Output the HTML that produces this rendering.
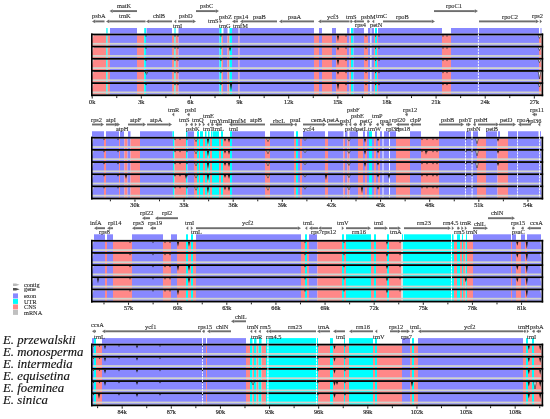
<!DOCTYPE html><html><head><meta charset="utf-8"><title>mVISTA</title><style>html,body{margin:0;padding:0;background:#fff;width:550px;height:419px;overflow:hidden}svg{display:block;will-change:transform}text{font-family:"Liberation Serif",serif}.l{font-size:6.4px;fill:#222;stroke:#333;stroke-width:0.1px}.ax{font-size:6.2px;fill:#222;stroke:#333;stroke-width:0.2px}.sp{font-size:12.8px;font-style:italic;fill:#111;stroke:#111;stroke-width:0.15px}.lg{font-size:6.3px;fill:#222;stroke:#333;stroke-width:0.1px}</style></head><body><svg width="550" height="419" viewBox="0 0 550 419"><rect width="550" height="419" fill="#fff"/><rect x="106.3" y="28" width="1.3" height="5.6" fill="#00ffff"/><rect x="110" y="28" width="27" height="5.6" fill="#8888ff"/><rect x="144.2" y="28" width="1.8" height="5.6" fill="#00ffff"/><rect x="146.5" y="28" width="25.5" height="5.6" fill="#8888ff"/><rect x="174.4" y="28" width="1.2" height="5.6" fill="#00ffff"/><rect x="178.5" y="28" width="41" height="5.6" fill="#8888ff"/><rect x="219.5" y="28" width="2" height="5.6" fill="#00ffff"/><rect x="223.5" y="28" width="4" height="5.6" fill="#8888ff"/><rect x="229.5" y="28" width="2.5" height="5.6" fill="#00ffff"/><rect x="232" y="28" width="6.5" height="5.6" fill="#8888ff"/><rect x="239.5" y="28" width="74.5" height="5.6" fill="#8888ff"/><rect x="319" y="28" width="3" height="5.6" fill="#8888ff"/><rect x="332" y="28" width="4" height="5.6" fill="#8888ff"/><rect x="347" y="28" width="2.5" height="5.6" fill="#8888ff"/><rect x="351" y="28" width="2.5" height="5.6" fill="#00ffff"/><rect x="353.5" y="28" width="10.5" height="5.6" fill="#8888ff"/><rect x="368" y="28" width="2.5" height="5.6" fill="#8888ff"/><rect x="371.5" y="28" width="2.5" height="5.6" fill="#8888ff"/><rect x="375" y="28" width="2" height="5.6" fill="#00ffff"/><rect x="378" y="28" width="64" height="5.6" fill="#8888ff"/><rect x="451" y="28" width="27" height="5.6" fill="#8888ff"/><rect x="479" y="28" width="60" height="5.6" fill="#8888ff"/><rect x="540.5" y="28" width="1" height="5.6" fill="#8888ff"/><rect x="92" y="35.4" width="14.3" height="10.35" fill="#ff8888"/><rect x="106.3" y="35.4" width="1.3" height="10.35" fill="#00ffff"/><rect x="107.6" y="35.4" width="2.4" height="10.35" fill="#ff8888"/><rect x="110" y="35.4" width="27" height="10.35" fill="#8888ff"/><rect x="137" y="35.4" width="7.2" height="10.35" fill="#ff8888"/><rect x="144.2" y="35.4" width="1.8" height="10.35" fill="#00ffff"/><rect x="146" y="35.4" width="26" height="10.35" fill="#8888ff"/><rect x="172" y="35.4" width="2.4" height="10.35" fill="#ff8888"/><rect x="174.4" y="35.4" width="1.2" height="10.35" fill="#00ffff"/><rect x="175.6" y="35.4" width="2.9" height="10.35" fill="#ff8888"/><rect x="178.5" y="35.4" width="41" height="10.35" fill="#8888ff"/><rect x="219.5" y="35.4" width="2" height="10.35" fill="#00ffff"/><rect x="221.5" y="35.4" width="1.5" height="10.35" fill="#ff8888"/><rect x="223" y="35.4" width="4.5" height="10.35" fill="#8888ff"/><rect x="227.5" y="35.4" width="2" height="10.35" fill="#ff8888"/><rect x="229.5" y="35.4" width="2.5" height="10.35" fill="#00ffff"/><rect x="232" y="35.4" width="6.5" height="10.35" fill="#8888ff"/><rect x="238.5" y="35.4" width="1" height="10.35" fill="#ff8888"/><rect x="239.5" y="35.4" width="74.5" height="10.35" fill="#8888ff"/><rect x="314" y="35.4" width="5" height="10.35" fill="#ff8888"/><rect x="319" y="35.4" width="3" height="10.35" fill="#8888ff"/><rect x="322" y="35.4" width="10" height="10.35" fill="#ff8888"/><rect x="332" y="35.4" width="4" height="10.35" fill="#8888ff"/><rect x="336" y="35.4" width="11" height="10.35" fill="#ff8888"/><rect x="347" y="35.4" width="2.5" height="10.35" fill="#8888ff"/><rect x="349.5" y="35.4" width="1.5" height="10.35" fill="#ff8888"/><rect x="351" y="35.4" width="2.5" height="10.35" fill="#00ffff"/><rect x="353.5" y="35.4" width="10.5" height="10.35" fill="#8888ff"/><rect x="364" y="35.4" width="4" height="10.35" fill="#ff8888"/><rect x="368" y="35.4" width="2.5" height="10.35" fill="#8888ff"/><rect x="370.5" y="35.4" width="1" height="10.35" fill="#ffffff"/><rect x="371.5" y="35.4" width="2.5" height="10.35" fill="#8888ff"/><rect x="374" y="35.4" width="1" height="10.35" fill="#ff8888"/><rect x="375" y="35.4" width="2" height="10.35" fill="#00ffff"/><rect x="377" y="35.4" width="1" height="10.35" fill="#ff8888"/><rect x="378" y="35.4" width="64" height="10.35" fill="#8888ff"/><rect x="442" y="35.4" width="9" height="10.35" fill="#ff8888"/><rect x="451" y="35.4" width="88" height="10.35" fill="#8888ff"/><rect x="539" y="35.4" width="2.6" height="10.35" fill="#ff8888"/><rect x="92" y="42.9" width="449.6" height="1.8" fill="#d2d4cc"/><rect x="91" y="33.6" width="452.2" height="1.8" fill="#000"/><rect x="92" y="47.55" width="14.3" height="10.35" fill="#ff8888"/><rect x="106.3" y="47.55" width="1.3" height="10.35" fill="#00ffff"/><rect x="107.6" y="47.55" width="2.4" height="10.35" fill="#ff8888"/><rect x="110" y="47.55" width="27" height="10.35" fill="#8888ff"/><rect x="137" y="47.55" width="7.2" height="10.35" fill="#ff8888"/><rect x="144.2" y="47.55" width="1.8" height="10.35" fill="#00ffff"/><rect x="146" y="47.55" width="26" height="10.35" fill="#8888ff"/><rect x="172" y="47.55" width="2.4" height="10.35" fill="#ff8888"/><rect x="174.4" y="47.55" width="1.2" height="10.35" fill="#00ffff"/><rect x="175.6" y="47.55" width="2.9" height="10.35" fill="#ff8888"/><rect x="178.5" y="47.55" width="41" height="10.35" fill="#8888ff"/><rect x="219.5" y="47.55" width="2" height="10.35" fill="#00ffff"/><rect x="221.5" y="47.55" width="1.5" height="10.35" fill="#ff8888"/><rect x="223" y="47.55" width="4.5" height="10.35" fill="#8888ff"/><rect x="227.5" y="47.55" width="2" height="10.35" fill="#ff8888"/><rect x="229.5" y="47.55" width="2.5" height="10.35" fill="#00ffff"/><rect x="232" y="47.55" width="6.5" height="10.35" fill="#8888ff"/><rect x="238.5" y="47.55" width="1" height="10.35" fill="#ff8888"/><rect x="239.5" y="47.55" width="74.5" height="10.35" fill="#8888ff"/><rect x="314" y="47.55" width="5" height="10.35" fill="#ff8888"/><rect x="319" y="47.55" width="3" height="10.35" fill="#8888ff"/><rect x="322" y="47.55" width="10" height="10.35" fill="#ff8888"/><rect x="332" y="47.55" width="4" height="10.35" fill="#8888ff"/><rect x="336" y="47.55" width="11" height="10.35" fill="#ff8888"/><rect x="347" y="47.55" width="2.5" height="10.35" fill="#8888ff"/><rect x="349.5" y="47.55" width="1.5" height="10.35" fill="#ff8888"/><rect x="351" y="47.55" width="2.5" height="10.35" fill="#00ffff"/><rect x="353.5" y="47.55" width="10.5" height="10.35" fill="#8888ff"/><rect x="364" y="47.55" width="4" height="10.35" fill="#ff8888"/><rect x="368" y="47.55" width="2.5" height="10.35" fill="#8888ff"/><rect x="370.5" y="47.55" width="1" height="10.35" fill="#ffffff"/><rect x="371.5" y="47.55" width="2.5" height="10.35" fill="#8888ff"/><rect x="374" y="47.55" width="1" height="10.35" fill="#ff8888"/><rect x="375" y="47.55" width="2" height="10.35" fill="#00ffff"/><rect x="377" y="47.55" width="1" height="10.35" fill="#ff8888"/><rect x="378" y="47.55" width="64" height="10.35" fill="#8888ff"/><rect x="442" y="47.55" width="9" height="10.35" fill="#ff8888"/><rect x="451" y="47.55" width="88" height="10.35" fill="#8888ff"/><rect x="539" y="47.55" width="2.6" height="10.35" fill="#ff8888"/><rect x="92" y="55.05" width="449.6" height="1.8" fill="#d2d4cc"/><rect x="91" y="45.75" width="452.2" height="1.8" fill="#000"/><rect x="92" y="59.7" width="14.3" height="10.35" fill="#ff8888"/><rect x="106.3" y="59.7" width="1.3" height="10.35" fill="#00ffff"/><rect x="107.6" y="59.7" width="2.4" height="10.35" fill="#ff8888"/><rect x="110" y="59.7" width="27" height="10.35" fill="#8888ff"/><rect x="137" y="59.7" width="7.2" height="10.35" fill="#ff8888"/><rect x="144.2" y="59.7" width="1.8" height="10.35" fill="#00ffff"/><rect x="146" y="59.7" width="26" height="10.35" fill="#8888ff"/><rect x="172" y="59.7" width="2.4" height="10.35" fill="#ff8888"/><rect x="174.4" y="59.7" width="1.2" height="10.35" fill="#00ffff"/><rect x="175.6" y="59.7" width="2.9" height="10.35" fill="#ff8888"/><rect x="178.5" y="59.7" width="41" height="10.35" fill="#8888ff"/><rect x="219.5" y="59.7" width="2" height="10.35" fill="#00ffff"/><rect x="221.5" y="59.7" width="1.5" height="10.35" fill="#ff8888"/><rect x="223" y="59.7" width="4.5" height="10.35" fill="#8888ff"/><rect x="227.5" y="59.7" width="2" height="10.35" fill="#ff8888"/><rect x="229.5" y="59.7" width="2.5" height="10.35" fill="#00ffff"/><rect x="232" y="59.7" width="6.5" height="10.35" fill="#8888ff"/><rect x="238.5" y="59.7" width="1" height="10.35" fill="#ff8888"/><rect x="239.5" y="59.7" width="74.5" height="10.35" fill="#8888ff"/><rect x="314" y="59.7" width="5" height="10.35" fill="#ff8888"/><rect x="319" y="59.7" width="3" height="10.35" fill="#8888ff"/><rect x="322" y="59.7" width="10" height="10.35" fill="#ff8888"/><rect x="332" y="59.7" width="4" height="10.35" fill="#8888ff"/><rect x="336" y="59.7" width="11" height="10.35" fill="#ff8888"/><rect x="347" y="59.7" width="2.5" height="10.35" fill="#8888ff"/><rect x="349.5" y="59.7" width="1.5" height="10.35" fill="#ff8888"/><rect x="351" y="59.7" width="2.5" height="10.35" fill="#00ffff"/><rect x="353.5" y="59.7" width="10.5" height="10.35" fill="#8888ff"/><rect x="364" y="59.7" width="4" height="10.35" fill="#ff8888"/><rect x="368" y="59.7" width="2.5" height="10.35" fill="#8888ff"/><rect x="370.5" y="59.7" width="1" height="10.35" fill="#ffffff"/><rect x="371.5" y="59.7" width="2.5" height="10.35" fill="#8888ff"/><rect x="374" y="59.7" width="1" height="10.35" fill="#ff8888"/><rect x="375" y="59.7" width="2" height="10.35" fill="#00ffff"/><rect x="377" y="59.7" width="1" height="10.35" fill="#ff8888"/><rect x="378" y="59.7" width="64" height="10.35" fill="#8888ff"/><rect x="442" y="59.7" width="9" height="10.35" fill="#ff8888"/><rect x="451" y="59.7" width="88" height="10.35" fill="#8888ff"/><rect x="539" y="59.7" width="2.6" height="10.35" fill="#ff8888"/><rect x="92" y="67.2" width="449.6" height="1.8" fill="#d2d4cc"/><rect x="91" y="57.9" width="452.2" height="1.8" fill="#000"/><rect x="92" y="71.85" width="14.3" height="10.35" fill="#ff8888"/><rect x="106.3" y="71.85" width="1.3" height="10.35" fill="#00ffff"/><rect x="107.6" y="71.85" width="2.4" height="10.35" fill="#ff8888"/><rect x="110" y="71.85" width="27" height="10.35" fill="#8888ff"/><rect x="137" y="71.85" width="7.2" height="10.35" fill="#ff8888"/><rect x="144.2" y="71.85" width="1.8" height="10.35" fill="#00ffff"/><rect x="146" y="71.85" width="26" height="10.35" fill="#8888ff"/><rect x="172" y="71.85" width="2.4" height="10.35" fill="#ff8888"/><rect x="174.4" y="71.85" width="1.2" height="10.35" fill="#00ffff"/><rect x="175.6" y="71.85" width="2.9" height="10.35" fill="#ff8888"/><rect x="178.5" y="71.85" width="41" height="10.35" fill="#8888ff"/><rect x="219.5" y="71.85" width="2" height="10.35" fill="#00ffff"/><rect x="221.5" y="71.85" width="1.5" height="10.35" fill="#ff8888"/><rect x="223" y="71.85" width="4.5" height="10.35" fill="#8888ff"/><rect x="227.5" y="71.85" width="2" height="10.35" fill="#ff8888"/><rect x="229.5" y="71.85" width="2.5" height="10.35" fill="#00ffff"/><rect x="232" y="71.85" width="6.5" height="10.35" fill="#8888ff"/><rect x="238.5" y="71.85" width="1" height="10.35" fill="#ff8888"/><rect x="239.5" y="71.85" width="74.5" height="10.35" fill="#8888ff"/><rect x="314" y="71.85" width="5" height="10.35" fill="#ff8888"/><rect x="319" y="71.85" width="3" height="10.35" fill="#8888ff"/><rect x="322" y="71.85" width="10" height="10.35" fill="#ff8888"/><rect x="332" y="71.85" width="4" height="10.35" fill="#8888ff"/><rect x="336" y="71.85" width="11" height="10.35" fill="#ff8888"/><rect x="347" y="71.85" width="2.5" height="10.35" fill="#8888ff"/><rect x="349.5" y="71.85" width="1.5" height="10.35" fill="#ff8888"/><rect x="351" y="71.85" width="2.5" height="10.35" fill="#00ffff"/><rect x="353.5" y="71.85" width="10.5" height="10.35" fill="#8888ff"/><rect x="364" y="71.85" width="4" height="10.35" fill="#ff8888"/><rect x="368" y="71.85" width="2.5" height="10.35" fill="#8888ff"/><rect x="370.5" y="71.85" width="1" height="10.35" fill="#ffffff"/><rect x="371.5" y="71.85" width="2.5" height="10.35" fill="#8888ff"/><rect x="374" y="71.85" width="1" height="10.35" fill="#ff8888"/><rect x="375" y="71.85" width="2" height="10.35" fill="#00ffff"/><rect x="377" y="71.85" width="1" height="10.35" fill="#ff8888"/><rect x="378" y="71.85" width="64" height="10.35" fill="#8888ff"/><rect x="442" y="71.85" width="9" height="10.35" fill="#ff8888"/><rect x="451" y="71.85" width="88" height="10.35" fill="#8888ff"/><rect x="539" y="71.85" width="2.6" height="10.35" fill="#ff8888"/><rect x="92" y="79.35" width="449.6" height="1.8" fill="#d2d4cc"/><rect x="91" y="70.05" width="452.2" height="1.8" fill="#000"/><rect x="92" y="84" width="14.3" height="10.35" fill="#ff8888"/><rect x="106.3" y="84" width="1.3" height="10.35" fill="#00ffff"/><rect x="107.6" y="84" width="2.4" height="10.35" fill="#ff8888"/><rect x="110" y="84" width="27" height="10.35" fill="#8888ff"/><rect x="137" y="84" width="7.2" height="10.35" fill="#ff8888"/><rect x="144.2" y="84" width="1.8" height="10.35" fill="#00ffff"/><rect x="146" y="84" width="26" height="10.35" fill="#8888ff"/><rect x="172" y="84" width="2.4" height="10.35" fill="#ff8888"/><rect x="174.4" y="84" width="1.2" height="10.35" fill="#00ffff"/><rect x="175.6" y="84" width="2.9" height="10.35" fill="#ff8888"/><rect x="178.5" y="84" width="41" height="10.35" fill="#8888ff"/><rect x="219.5" y="84" width="2" height="10.35" fill="#00ffff"/><rect x="221.5" y="84" width="1.5" height="10.35" fill="#ff8888"/><rect x="223" y="84" width="4.5" height="10.35" fill="#8888ff"/><rect x="227.5" y="84" width="2" height="10.35" fill="#ff8888"/><rect x="229.5" y="84" width="2.5" height="10.35" fill="#00ffff"/><rect x="232" y="84" width="6.5" height="10.35" fill="#8888ff"/><rect x="238.5" y="84" width="1" height="10.35" fill="#ff8888"/><rect x="239.5" y="84" width="74.5" height="10.35" fill="#8888ff"/><rect x="314" y="84" width="5" height="10.35" fill="#ff8888"/><rect x="319" y="84" width="3" height="10.35" fill="#8888ff"/><rect x="322" y="84" width="10" height="10.35" fill="#ff8888"/><rect x="332" y="84" width="4" height="10.35" fill="#8888ff"/><rect x="336" y="84" width="11" height="10.35" fill="#ff8888"/><rect x="347" y="84" width="2.5" height="10.35" fill="#8888ff"/><rect x="349.5" y="84" width="1.5" height="10.35" fill="#ff8888"/><rect x="351" y="84" width="2.5" height="10.35" fill="#00ffff"/><rect x="353.5" y="84" width="10.5" height="10.35" fill="#8888ff"/><rect x="364" y="84" width="4" height="10.35" fill="#ff8888"/><rect x="368" y="84" width="2.5" height="10.35" fill="#8888ff"/><rect x="370.5" y="84" width="1" height="10.35" fill="#ffffff"/><rect x="371.5" y="84" width="2.5" height="10.35" fill="#8888ff"/><rect x="374" y="84" width="1" height="10.35" fill="#ff8888"/><rect x="375" y="84" width="2" height="10.35" fill="#00ffff"/><rect x="377" y="84" width="1" height="10.35" fill="#ff8888"/><rect x="378" y="84" width="64" height="10.35" fill="#8888ff"/><rect x="442" y="84" width="9" height="10.35" fill="#ff8888"/><rect x="451" y="84" width="88" height="10.35" fill="#8888ff"/><rect x="539" y="84" width="2.6" height="10.35" fill="#ff8888"/><rect x="92" y="91.5" width="449.6" height="1.8" fill="#d2d4cc"/><rect x="91" y="82.2" width="452.2" height="1.8" fill="#000"/><rect x="91" y="94.35" width="452.2" height="1.8" fill="#000"/><line x1="478.4" y1="28" x2="478.4" y2="94.25" stroke="#fff" stroke-width="0.9" stroke-dasharray="2.2,0.8"/><polygon points="92,35.4 93.6,35.4 92,41.4" fill="#e8e0e0"/><polygon points="540.4,35.4 541.6,35.4 541.6,42.4" fill="#eee"/><polygon points="336.9,35.4 338,41.4 339.1,35.4" fill="#1a1a1a"/><polygon points="538.2,35.4 539.5,38.4 540.8,35.4" fill="#fff" stroke="#222" stroke-width="0.6"/><polygon points="145.2,35.4 146,37 146.8,35.4" fill="#222"/><polygon points="174.2,35.4 175,37 175.8,35.4" fill="#222"/><polygon points="177.2,35.4 178,37 178.8,35.4" fill="#222"/><polygon points="220.2,35.4 221,37 221.8,35.4" fill="#222"/><polygon points="345.2,35.4 346,37 346.8,35.4" fill="#222"/><polygon points="365.2,35.4 366,37 366.8,35.4" fill="#222"/><polygon points="374.7,35.4 375.5,37 376.3,35.4" fill="#222"/><polygon points="378.2,35.4 379,37 379.8,35.4" fill="#222"/><polygon points="442.2,35.4 443,37 443.8,35.4" fill="#222"/><polygon points="446.2,35.4 447,37 447.8,35.4" fill="#222"/><polygon points="92,47.55 93.6,47.55 92,53.55" fill="#e8e0e0"/><polygon points="540.4,47.55 541.6,47.55 541.6,54.55" fill="#eee"/><polygon points="336.9,47.55 338,50.55 339.1,47.55" fill="#1a1a1a"/><polygon points="228.9,47.55 230,51.55 231.1,47.55" fill="#1a1a1a"/><polygon points="538.2,47.55 539.5,50.55 540.8,47.55" fill="#fff" stroke="#222" stroke-width="0.6"/><polygon points="145.2,47.55 146,49.15 146.8,47.55" fill="#222"/><polygon points="174.2,47.55 175,49.15 175.8,47.55" fill="#222"/><polygon points="177.2,47.55 178,49.15 178.8,47.55" fill="#222"/><polygon points="220.2,47.55 221,49.15 221.8,47.55" fill="#222"/><polygon points="345.2,47.55 346,49.15 346.8,47.55" fill="#222"/><polygon points="365.2,47.55 366,49.15 366.8,47.55" fill="#222"/><polygon points="374.7,47.55 375.5,49.15 376.3,47.55" fill="#222"/><polygon points="378.2,47.55 379,49.15 379.8,47.55" fill="#222"/><polygon points="442.2,47.55 443,49.15 443.8,47.55" fill="#222"/><polygon points="446.2,47.55 447,49.15 447.8,47.55" fill="#222"/><polygon points="92,59.7 93.6,59.7 92,65.7" fill="#e8e0e0"/><polygon points="540.4,59.7 541.6,59.7 541.6,66.7" fill="#eee"/><polygon points="336.9,59.7 338,65.7 339.1,59.7" fill="#1a1a1a"/><polygon points="538.2,59.7 539.5,62.7 540.8,59.7" fill="#fff" stroke="#222" stroke-width="0.6"/><polygon points="145.2,59.7 146,61.3 146.8,59.7" fill="#222"/><polygon points="174.2,59.7 175,61.3 175.8,59.7" fill="#222"/><polygon points="177.2,59.7 178,61.3 178.8,59.7" fill="#222"/><polygon points="220.2,59.7 221,61.3 221.8,59.7" fill="#222"/><polygon points="345.2,59.7 346,61.3 346.8,59.7" fill="#222"/><polygon points="365.2,59.7 366,61.3 366.8,59.7" fill="#222"/><polygon points="374.7,59.7 375.5,61.3 376.3,59.7" fill="#222"/><polygon points="378.2,59.7 379,61.3 379.8,59.7" fill="#222"/><polygon points="442.2,59.7 443,61.3 443.8,59.7" fill="#222"/><polygon points="446.2,59.7 447,61.3 447.8,59.7" fill="#222"/><polygon points="92,71.85 93.6,71.85 92,77.85" fill="#e8e0e0"/><polygon points="540.4,71.85 541.6,71.85 541.6,78.85" fill="#eee"/><polygon points="336.9,71.85 338,74.85 339.1,71.85" fill="#1a1a1a"/><polygon points="538.2,71.85 539.5,78.85 540.8,71.85" fill="#fff" stroke="#222" stroke-width="0.6"/><polygon points="145.2,71.85 146.5,74.35 147.8,71.85" fill="#fff" stroke="#222" stroke-width="0.6"/><polygon points="145.2,71.85 146,73.45 146.8,71.85" fill="#222"/><polygon points="174.2,71.85 175,73.45 175.8,71.85" fill="#222"/><polygon points="177.2,71.85 178,73.45 178.8,71.85" fill="#222"/><polygon points="220.2,71.85 221,73.45 221.8,71.85" fill="#222"/><polygon points="345.2,71.85 346,73.45 346.8,71.85" fill="#222"/><polygon points="365.2,71.85 366,73.45 366.8,71.85" fill="#222"/><polygon points="374.7,71.85 375.5,73.45 376.3,71.85" fill="#222"/><polygon points="378.2,71.85 379,73.45 379.8,71.85" fill="#222"/><polygon points="442.2,71.85 443,73.45 443.8,71.85" fill="#222"/><polygon points="446.2,71.85 447,73.45 447.8,71.85" fill="#222"/><polygon points="92,84 93.6,84 92,90" fill="#e8e0e0"/><polygon points="540.4,84 541.6,84 541.6,91" fill="#eee"/><polygon points="336.9,84 338,90 339.1,84" fill="#1a1a1a"/><polygon points="229.9,84 231,91 232.1,84" fill="#1a1a1a"/><polygon points="538.2,84 539.5,87 540.8,84" fill="#fff" stroke="#222" stroke-width="0.6"/><polygon points="145.2,84 146,85.6 146.8,84" fill="#222"/><polygon points="174.2,84 175,85.6 175.8,84" fill="#222"/><polygon points="177.2,84 178,85.6 178.8,84" fill="#222"/><polygon points="220.2,84 221,85.6 221.8,84" fill="#222"/><polygon points="345.2,84 346,85.6 346.8,84" fill="#222"/><polygon points="365.2,84 366,85.6 366.8,84" fill="#222"/><polygon points="374.7,84 375.5,85.6 376.3,84" fill="#222"/><polygon points="378.2,84 379,85.6 379.8,84" fill="#222"/><polygon points="442.2,84 443,85.6 443.8,84" fill="#222"/><polygon points="446.2,84 447,85.6 447.8,84" fill="#222"/><rect x="91" y="33.5" width="1.6" height="62.75" fill="#000"/><rect x="541.6" y="33.5" width="1.6" height="62.75" fill="#000"/><rect x="91.7" y="96.15" width="1" height="2.4" fill="#222"/><text class="ax" x="92.2" y="104.15" text-anchor="middle">0k</text><rect x="116.26" y="96.15" width="1" height="1.9" fill="#222"/><rect x="140.82" y="96.15" width="1" height="2.4" fill="#222"/><text class="ax" x="141.32" y="104.15" text-anchor="middle">3k</text><rect x="165.39" y="96.15" width="1" height="1.9" fill="#222"/><rect x="189.95" y="96.15" width="1" height="2.4" fill="#222"/><text class="ax" x="190.45" y="104.15" text-anchor="middle">6k</text><rect x="214.51" y="96.15" width="1" height="1.9" fill="#222"/><rect x="239.07" y="96.15" width="1" height="2.4" fill="#222"/><text class="ax" x="239.57" y="104.15" text-anchor="middle">9k</text><rect x="263.64" y="96.15" width="1" height="1.9" fill="#222"/><rect x="288.2" y="96.15" width="1" height="2.4" fill="#222"/><text class="ax" x="288.7" y="104.15" text-anchor="middle">12k</text><rect x="312.76" y="96.15" width="1" height="1.9" fill="#222"/><rect x="337.32" y="96.15" width="1" height="2.4" fill="#222"/><text class="ax" x="337.82" y="104.15" text-anchor="middle">15k</text><rect x="361.89" y="96.15" width="1" height="1.9" fill="#222"/><rect x="386.45" y="96.15" width="1" height="2.4" fill="#222"/><text class="ax" x="386.95" y="104.15" text-anchor="middle">18k</text><rect x="411.01" y="96.15" width="1" height="1.9" fill="#222"/><rect x="435.57" y="96.15" width="1" height="2.4" fill="#222"/><text class="ax" x="436.07" y="104.15" text-anchor="middle">21k</text><rect x="460.14" y="96.15" width="1" height="1.9" fill="#222"/><rect x="484.7" y="96.15" width="1" height="2.4" fill="#222"/><text class="ax" x="485.2" y="104.15" text-anchor="middle">24k</text><rect x="509.26" y="96.15" width="1" height="1.9" fill="#222"/><rect x="533.83" y="96.15" width="1" height="2.4" fill="#222"/><text class="ax" x="534.33" y="104.15" text-anchor="middle">27k</text><rect x="112.7" y="10.15" width="24.3" height="1.9" fill="#6e6e6e"/><polygon points="112.7,9.2 109.5,11.1 112.7,13" fill="#6e6e6e"/><rect x="196" y="10.15" width="19.8" height="1.9" fill="#6e6e6e"/><polygon points="215.8,9.2 219,11.1 215.8,13" fill="#6e6e6e"/><rect x="434" y="10.15" width="40.8" height="1.9" fill="#6e6e6e"/><polygon points="474.8,9.2 478,11.1 474.8,13" fill="#6e6e6e"/><rect x="95.2" y="20.45" width="9.3" height="1.9" fill="#6e6e6e"/><polygon points="95.2,19.5 92,21.4 95.2,23.3" fill="#6e6e6e"/><rect x="109.2" y="20.45" width="36.3" height="1.9" fill="#6e6e6e"/><polygon points="109.2,19.5 106,21.4 109.2,23.3" fill="#6e6e6e"/><rect x="149.2" y="20.45" width="22.8" height="1.9" fill="#6e6e6e"/><polygon points="149.2,19.5 146,21.4 149.2,23.3" fill="#6e6e6e"/><rect x="178" y="20.45" width="14.8" height="1.9" fill="#6e6e6e"/><polygon points="192.8,19.5 196,21.4 192.8,23.3" fill="#6e6e6e"/><rect x="219.5" y="20.45" width="0.3" height="1.9" fill="#6e6e6e"/><polygon points="219.8,19.5 222,21.4 219.8,23.3" fill="#6e6e6e"/><rect x="235.2" y="20.45" width="2.8" height="1.9" fill="#6e6e6e"/><polygon points="235.2,19.5 232,21.4 235.2,23.3" fill="#6e6e6e"/><rect x="243.2" y="20.45" width="33.8" height="1.9" fill="#6e6e6e"/><polygon points="243.2,19.5 240,21.4 243.2,23.3" fill="#6e6e6e"/><rect x="282.2" y="20.45" width="31.8" height="1.9" fill="#6e6e6e"/><polygon points="282.2,19.5 279,21.4 282.2,23.3" fill="#6e6e6e"/><rect x="321.2" y="20.45" width="28.3" height="1.9" fill="#6e6e6e"/><polygon points="321.2,19.5 318,21.4 321.2,23.3" fill="#6e6e6e"/><rect x="350" y="20.45" width="0.8" height="1.9" fill="#6e6e6e"/><polygon points="350.8,19.5 353,21.4 350.8,23.3" fill="#6e6e6e"/><rect x="356.2" y="20.45" width="7.8" height="1.9" fill="#6e6e6e"/><polygon points="356.2,19.5 353,21.4 356.2,23.3" fill="#6e6e6e"/><rect x="367" y="20.45" width="0.8" height="1.9" fill="#6e6e6e"/><polygon points="367.8,19.5 370,21.4 367.8,23.3" fill="#6e6e6e"/><rect x="374.2" y="20.45" width="0.1" height="1.9" fill="#6e6e6e"/><polygon points="374.2,19.5 372,21.4 374.2,23.3" fill="#6e6e6e"/><rect x="383" y="20.45" width="48.8" height="1.9" fill="#6e6e6e"/><polygon points="431.8,19.5 435,21.4 431.8,23.3" fill="#6e6e6e"/><rect x="479" y="20.45" width="56.8" height="1.9" fill="#6e6e6e"/><polygon points="535.8,19.5 539,21.4 535.8,23.3" fill="#6e6e6e"/><rect x="540" y="20.45" width="0.1" height="1.9" fill="#6e6e6e"/><polygon points="539.8,19.5 542,21.4 539.8,23.3" fill="#6e6e6e"/><rect x="176.2" y="20.45" width="0.1" height="1.9" fill="#6e6e6e"/><polygon points="176.2,19.5 174,21.4 176.2,23.3" fill="#6e6e6e"/><text class="l" x="117" y="8">matK</text><text class="l" x="200" y="8">psbC</text><text class="l" x="446" y="8">rpoC1</text><text class="l" x="92" y="18.4">psbA</text><text class="l" x="119" y="18.4">trnK</text><text class="l" x="153" y="18.4">chlB</text><text class="l" x="179" y="18.4">psbD</text><text class="l" x="208" y="23.3">trnS</text><text class="l" x="219" y="19.3">psbZ</text><text class="l" x="219" y="28">trnG</text><text class="l" x="233" y="28">trnfM</text><text class="l" x="234" y="19">rps14</text><text class="l" x="253" y="19">psaB</text><text class="l" x="288" y="19">psaA</text><text class="l" x="327" y="19">ycf3</text><text class="l" x="346" y="19">trnS</text><text class="l" x="355" y="26.5">rps4</text><text class="l" x="361" y="19.3">psbM</text><text class="l" x="376" y="18">trnC</text><text class="l" x="370" y="27">petN</text><text class="l" x="396" y="19">rpoB</text><text class="l" x="502" y="19">rpoC2</text><text class="l" x="532" y="18">rps2</text><text class="l" x="173" y="27.5">trnI</text><rect x="92" y="131.25" width="12" height="5.6" fill="#8888ff"/><rect x="106" y="131.25" width="13" height="5.6" fill="#8888ff"/><rect x="120" y="131.25" width="4" height="5.6" fill="#8888ff"/><rect x="128" y="131.25" width="2.5" height="5.6" fill="#8888ff"/><rect x="140" y="131.25" width="32.5" height="5.6" fill="#8888ff"/><rect x="172.5" y="131.25" width="1.5" height="5.6" fill="#00ffff"/><rect x="186" y="131.25" width="1.5" height="5.6" fill="#00ffff"/><rect x="187.5" y="131.25" width="6.5" height="5.6" fill="#8888ff"/><rect x="197" y="131.25" width="2" height="5.6" fill="#00ffff"/><rect x="200" y="131.25" width="3" height="5.6" fill="#00ffff"/><rect x="205" y="131.25" width="1.5" height="5.6" fill="#00ffff"/><rect x="208" y="131.25" width="1.5" height="5.6" fill="#00ffff"/><rect x="211" y="131.25" width="1.5" height="5.6" fill="#00ffff"/><rect x="213" y="131.25" width="6" height="5.6" fill="#00ffff"/><rect x="221" y="131.25" width="2" height="5.6" fill="#00ffff"/><rect x="230" y="131.25" width="2" height="5.6" fill="#00ffff"/><rect x="232" y="131.25" width="33" height="5.6" fill="#8888ff"/><rect x="270" y="131.25" width="24" height="5.6" fill="#8888ff"/><rect x="296" y="131.25" width="2" height="5.6" fill="#00ffff"/><rect x="303" y="131.25" width="22" height="5.6" fill="#8888ff"/><rect x="328" y="131.25" width="15.5" height="5.6" fill="#8888ff"/><rect x="345" y="131.25" width="2.5" height="5.6" fill="#8888ff"/><rect x="349.5" y="131.25" width="8.5" height="5.6" fill="#8888ff"/><rect x="363" y="131.25" width="2" height="5.6" fill="#8888ff"/><rect x="367" y="131.25" width="2" height="5.6" fill="#8888ff"/><rect x="369" y="131.25" width="3" height="5.6" fill="#00ffff"/><rect x="375" y="131.25" width="2" height="5.6" fill="#8888ff"/><rect x="380" y="131.25" width="2" height="5.6" fill="#8888ff"/><rect x="384" y="131.25" width="5" height="5.6" fill="#8888ff"/><rect x="390" y="131.25" width="6" height="5.6" fill="#8888ff"/><rect x="410" y="131.25" width="11" height="5.6" fill="#8888ff"/><rect x="439" y="131.25" width="26" height="5.6" fill="#8888ff"/><rect x="466" y="131.25" width="5" height="5.6" fill="#8888ff"/><rect x="473" y="131.25" width="5" height="5.6" fill="#8888ff"/><rect x="486" y="131.25" width="11" height="5.6" fill="#8888ff"/><rect x="498" y="131.25" width="2" height="5.6" fill="#8888ff"/><rect x="508" y="131.25" width="9" height="5.6" fill="#8888ff"/><rect x="518" y="131.25" width="20.5" height="5.6" fill="#8888ff"/><rect x="540" y="131.25" width="1" height="5.6" fill="#8888ff"/><rect x="92" y="138.65" width="12" height="10.35" fill="#8888ff"/><rect x="104" y="138.65" width="2" height="10.35" fill="#ff8888"/><rect x="106" y="138.65" width="13" height="10.35" fill="#8888ff"/><rect x="119" y="138.65" width="1" height="10.35" fill="#ff8888"/><rect x="120" y="138.65" width="4.5" height="10.35" fill="#8888ff"/><rect x="124.5" y="138.65" width="3" height="10.35" fill="#ff8888"/><rect x="127.5" y="138.65" width="3" height="10.35" fill="#8888ff"/><rect x="130.5" y="138.65" width="9.5" height="10.35" fill="#ff8888"/><rect x="140" y="138.65" width="33" height="10.35" fill="#8888ff"/><rect x="173" y="138.65" width="1.5" height="10.35" fill="#00ffff"/><rect x="174.5" y="138.65" width="11.5" height="10.35" fill="#ff8888"/><rect x="186" y="138.65" width="1.5" height="10.35" fill="#00ffff"/><rect x="187.5" y="138.65" width="6.5" height="10.35" fill="#8888ff"/><rect x="194" y="138.65" width="3" height="10.35" fill="#ff8888"/><rect x="197" y="138.65" width="2" height="10.35" fill="#00ffff"/><rect x="199" y="138.65" width="1" height="10.35" fill="#ff8888"/><rect x="200" y="138.65" width="3" height="10.35" fill="#00ffff"/><rect x="203" y="138.65" width="2" height="10.35" fill="#ff8888"/><rect x="205" y="138.65" width="2" height="10.35" fill="#00ffff"/><rect x="207" y="138.65" width="1.5" height="10.35" fill="#ff8888"/><rect x="208.5" y="138.65" width="1.5" height="10.35" fill="#00ffff"/><rect x="210" y="138.65" width="2" height="10.35" fill="#ff8888"/><rect x="212" y="138.65" width="7" height="10.35" fill="#00ffff"/><rect x="219" y="138.65" width="2" height="10.35" fill="#ff8888"/><rect x="221" y="138.65" width="2" height="10.35" fill="#00ffff"/><rect x="223" y="138.65" width="7" height="10.35" fill="#ff8888"/><rect x="230" y="138.65" width="2" height="10.35" fill="#00ffff"/><rect x="232" y="138.65" width="33" height="10.35" fill="#8888ff"/><rect x="265" y="138.65" width="5" height="10.35" fill="#ff8888"/><rect x="270" y="138.65" width="24" height="10.35" fill="#8888ff"/><rect x="294" y="138.65" width="2" height="10.35" fill="#ff8888"/><rect x="296" y="138.65" width="2" height="10.35" fill="#00ffff"/><rect x="298" y="138.65" width="2" height="10.35" fill="#8888ff"/><rect x="300" y="138.65" width="2" height="10.35" fill="#ff8888"/><rect x="302" y="138.65" width="23" height="10.35" fill="#8888ff"/><rect x="325" y="138.65" width="3" height="10.35" fill="#ff8888"/><rect x="328" y="138.65" width="15.5" height="10.35" fill="#8888ff"/><rect x="343.5" y="138.65" width="1.5" height="10.35" fill="#ff8888"/><rect x="345" y="138.65" width="2.5" height="10.35" fill="#8888ff"/><rect x="347.5" y="138.65" width="2" height="10.35" fill="#ff8888"/><rect x="349.5" y="138.65" width="8.5" height="10.35" fill="#8888ff"/><rect x="358" y="138.65" width="5" height="10.35" fill="#ff8888"/><rect x="363" y="138.65" width="2" height="10.35" fill="#8888ff"/><rect x="365" y="138.65" width="2" height="10.35" fill="#ff8888"/><rect x="367" y="138.65" width="2" height="10.35" fill="#8888ff"/><rect x="369" y="138.65" width="3" height="10.35" fill="#00ffff"/><rect x="372" y="138.65" width="2" height="10.35" fill="#8888ff"/><rect x="374" y="138.65" width="2" height="10.35" fill="#ff8888"/><rect x="376" y="138.65" width="2" height="10.35" fill="#8888ff"/><rect x="378" y="138.65" width="2" height="10.35" fill="#ff8888"/><rect x="380" y="138.65" width="2" height="10.35" fill="#8888ff"/><rect x="382" y="138.65" width="2" height="10.35" fill="#c0c0ff"/><rect x="384" y="138.65" width="5" height="10.35" fill="#8888ff"/><rect x="389" y="138.65" width="1" height="10.35" fill="#ffffff"/><rect x="390" y="138.65" width="6" height="10.35" fill="#8888ff"/><rect x="396" y="138.65" width="14" height="10.35" fill="#ff8888"/><rect x="410" y="138.65" width="11" height="10.35" fill="#8888ff"/><rect x="421" y="138.65" width="18" height="10.35" fill="#ff8888"/><rect x="439" y="138.65" width="26" height="10.35" fill="#8888ff"/><rect x="465" y="138.65" width="1" height="10.35" fill="#8888ff"/><rect x="466" y="138.65" width="5" height="10.35" fill="#8888ff"/><rect x="471" y="138.65" width="1.5" height="10.35" fill="#8888ff"/><rect x="472.5" y="138.65" width="4.5" height="10.35" fill="#8888ff"/><rect x="477" y="138.65" width="9" height="10.35" fill="#ff8888"/><rect x="486" y="138.65" width="11.5" height="10.35" fill="#8888ff"/><rect x="497.5" y="138.65" width="10.5" height="10.35" fill="#ff8888"/><rect x="508" y="138.65" width="9" height="10.35" fill="#8888ff"/><rect x="517" y="138.65" width="1" height="10.35" fill="#8888ff"/><rect x="518" y="138.65" width="21" height="10.35" fill="#8888ff"/><rect x="539" y="138.65" width="1" height="10.35" fill="#8888ff"/><rect x="540" y="138.65" width="1.6" height="10.35" fill="#8888ff"/><rect x="92" y="146.15" width="449.6" height="1.8" fill="#d2d4cc"/><rect x="91" y="136.85" width="452.2" height="1.8" fill="#000"/><rect x="92" y="150.8" width="12" height="10.35" fill="#8888ff"/><rect x="104" y="150.8" width="2" height="10.35" fill="#ff8888"/><rect x="106" y="150.8" width="13" height="10.35" fill="#8888ff"/><rect x="119" y="150.8" width="1" height="10.35" fill="#ff8888"/><rect x="120" y="150.8" width="4.5" height="10.35" fill="#8888ff"/><rect x="124.5" y="150.8" width="3" height="10.35" fill="#ff8888"/><rect x="127.5" y="150.8" width="3" height="10.35" fill="#8888ff"/><rect x="130.5" y="150.8" width="9.5" height="10.35" fill="#ff8888"/><rect x="140" y="150.8" width="33" height="10.35" fill="#8888ff"/><rect x="173" y="150.8" width="1.5" height="10.35" fill="#00ffff"/><rect x="174.5" y="150.8" width="11.5" height="10.35" fill="#ff8888"/><rect x="186" y="150.8" width="1.5" height="10.35" fill="#00ffff"/><rect x="187.5" y="150.8" width="6.5" height="10.35" fill="#8888ff"/><rect x="194" y="150.8" width="3" height="10.35" fill="#ff8888"/><rect x="197" y="150.8" width="2" height="10.35" fill="#00ffff"/><rect x="199" y="150.8" width="1" height="10.35" fill="#ff8888"/><rect x="200" y="150.8" width="3" height="10.35" fill="#00ffff"/><rect x="203" y="150.8" width="2" height="10.35" fill="#ff8888"/><rect x="205" y="150.8" width="2" height="10.35" fill="#00ffff"/><rect x="207" y="150.8" width="1.5" height="10.35" fill="#ff8888"/><rect x="208.5" y="150.8" width="1.5" height="10.35" fill="#00ffff"/><rect x="210" y="150.8" width="2" height="10.35" fill="#ff8888"/><rect x="212" y="150.8" width="7" height="10.35" fill="#00ffff"/><rect x="219" y="150.8" width="2" height="10.35" fill="#ff8888"/><rect x="221" y="150.8" width="2" height="10.35" fill="#00ffff"/><rect x="223" y="150.8" width="7" height="10.35" fill="#ff8888"/><rect x="230" y="150.8" width="2" height="10.35" fill="#00ffff"/><rect x="232" y="150.8" width="33" height="10.35" fill="#8888ff"/><rect x="265" y="150.8" width="5" height="10.35" fill="#ff8888"/><rect x="270" y="150.8" width="24" height="10.35" fill="#8888ff"/><rect x="294" y="150.8" width="2" height="10.35" fill="#ff8888"/><rect x="296" y="150.8" width="2" height="10.35" fill="#00ffff"/><rect x="298" y="150.8" width="2" height="10.35" fill="#8888ff"/><rect x="300" y="150.8" width="2" height="10.35" fill="#ff8888"/><rect x="302" y="150.8" width="23" height="10.35" fill="#8888ff"/><rect x="325" y="150.8" width="3" height="10.35" fill="#ff8888"/><rect x="328" y="150.8" width="15.5" height="10.35" fill="#8888ff"/><rect x="343.5" y="150.8" width="1.5" height="10.35" fill="#ff8888"/><rect x="345" y="150.8" width="2.5" height="10.35" fill="#8888ff"/><rect x="347.5" y="150.8" width="2" height="10.35" fill="#ff8888"/><rect x="349.5" y="150.8" width="8.5" height="10.35" fill="#8888ff"/><rect x="358" y="150.8" width="5" height="10.35" fill="#ff8888"/><rect x="363" y="150.8" width="2" height="10.35" fill="#8888ff"/><rect x="365" y="150.8" width="2" height="10.35" fill="#ff8888"/><rect x="367" y="150.8" width="2" height="10.35" fill="#8888ff"/><rect x="369" y="150.8" width="3" height="10.35" fill="#00ffff"/><rect x="372" y="150.8" width="2" height="10.35" fill="#8888ff"/><rect x="374" y="150.8" width="2" height="10.35" fill="#ff8888"/><rect x="376" y="150.8" width="2" height="10.35" fill="#8888ff"/><rect x="378" y="150.8" width="2" height="10.35" fill="#ff8888"/><rect x="380" y="150.8" width="2" height="10.35" fill="#8888ff"/><rect x="382" y="150.8" width="2" height="10.35" fill="#c0c0ff"/><rect x="384" y="150.8" width="5" height="10.35" fill="#8888ff"/><rect x="389" y="150.8" width="1" height="10.35" fill="#ffffff"/><rect x="390" y="150.8" width="6" height="10.35" fill="#8888ff"/><rect x="396" y="150.8" width="14" height="10.35" fill="#ff8888"/><rect x="410" y="150.8" width="11" height="10.35" fill="#8888ff"/><rect x="421" y="150.8" width="18" height="10.35" fill="#ff8888"/><rect x="439" y="150.8" width="26" height="10.35" fill="#8888ff"/><rect x="465" y="150.8" width="1" height="10.35" fill="#8888ff"/><rect x="466" y="150.8" width="5" height="10.35" fill="#8888ff"/><rect x="471" y="150.8" width="1.5" height="10.35" fill="#8888ff"/><rect x="472.5" y="150.8" width="4.5" height="10.35" fill="#8888ff"/><rect x="477" y="150.8" width="9" height="10.35" fill="#ff8888"/><rect x="486" y="150.8" width="11.5" height="10.35" fill="#8888ff"/><rect x="497.5" y="150.8" width="10.5" height="10.35" fill="#ff8888"/><rect x="508" y="150.8" width="9" height="10.35" fill="#8888ff"/><rect x="517" y="150.8" width="1" height="10.35" fill="#8888ff"/><rect x="518" y="150.8" width="21" height="10.35" fill="#8888ff"/><rect x="539" y="150.8" width="1" height="10.35" fill="#8888ff"/><rect x="540" y="150.8" width="1.6" height="10.35" fill="#8888ff"/><rect x="92" y="158.3" width="449.6" height="1.8" fill="#d2d4cc"/><rect x="91" y="149" width="452.2" height="1.8" fill="#000"/><rect x="92" y="162.95" width="12" height="10.35" fill="#8888ff"/><rect x="104" y="162.95" width="2" height="10.35" fill="#ff8888"/><rect x="106" y="162.95" width="13" height="10.35" fill="#8888ff"/><rect x="119" y="162.95" width="1" height="10.35" fill="#ff8888"/><rect x="120" y="162.95" width="4.5" height="10.35" fill="#8888ff"/><rect x="124.5" y="162.95" width="3" height="10.35" fill="#ff8888"/><rect x="127.5" y="162.95" width="3" height="10.35" fill="#8888ff"/><rect x="130.5" y="162.95" width="9.5" height="10.35" fill="#ff8888"/><rect x="140" y="162.95" width="33" height="10.35" fill="#8888ff"/><rect x="173" y="162.95" width="1.5" height="10.35" fill="#00ffff"/><rect x="174.5" y="162.95" width="11.5" height="10.35" fill="#ff8888"/><rect x="186" y="162.95" width="1.5" height="10.35" fill="#00ffff"/><rect x="187.5" y="162.95" width="6.5" height="10.35" fill="#8888ff"/><rect x="194" y="162.95" width="3" height="10.35" fill="#ff8888"/><rect x="197" y="162.95" width="2" height="10.35" fill="#00ffff"/><rect x="199" y="162.95" width="1" height="10.35" fill="#ff8888"/><rect x="200" y="162.95" width="3" height="10.35" fill="#00ffff"/><rect x="203" y="162.95" width="2" height="10.35" fill="#ff8888"/><rect x="205" y="162.95" width="2" height="10.35" fill="#00ffff"/><rect x="207" y="162.95" width="1.5" height="10.35" fill="#ff8888"/><rect x="208.5" y="162.95" width="1.5" height="10.35" fill="#00ffff"/><rect x="210" y="162.95" width="2" height="10.35" fill="#ff8888"/><rect x="212" y="162.95" width="7" height="10.35" fill="#00ffff"/><rect x="219" y="162.95" width="2" height="10.35" fill="#ff8888"/><rect x="221" y="162.95" width="2" height="10.35" fill="#00ffff"/><rect x="223" y="162.95" width="7" height="10.35" fill="#ff8888"/><rect x="230" y="162.95" width="2" height="10.35" fill="#00ffff"/><rect x="232" y="162.95" width="33" height="10.35" fill="#8888ff"/><rect x="265" y="162.95" width="5" height="10.35" fill="#ff8888"/><rect x="270" y="162.95" width="24" height="10.35" fill="#8888ff"/><rect x="294" y="162.95" width="2" height="10.35" fill="#ff8888"/><rect x="296" y="162.95" width="2" height="10.35" fill="#00ffff"/><rect x="298" y="162.95" width="2" height="10.35" fill="#8888ff"/><rect x="300" y="162.95" width="2" height="10.35" fill="#ff8888"/><rect x="302" y="162.95" width="23" height="10.35" fill="#8888ff"/><rect x="325" y="162.95" width="3" height="10.35" fill="#ff8888"/><rect x="328" y="162.95" width="15.5" height="10.35" fill="#8888ff"/><rect x="343.5" y="162.95" width="1.5" height="10.35" fill="#ff8888"/><rect x="345" y="162.95" width="2.5" height="10.35" fill="#8888ff"/><rect x="347.5" y="162.95" width="2" height="10.35" fill="#ff8888"/><rect x="349.5" y="162.95" width="8.5" height="10.35" fill="#8888ff"/><rect x="358" y="162.95" width="5" height="10.35" fill="#ff8888"/><rect x="363" y="162.95" width="2" height="10.35" fill="#8888ff"/><rect x="365" y="162.95" width="2" height="10.35" fill="#ff8888"/><rect x="367" y="162.95" width="2" height="10.35" fill="#8888ff"/><rect x="369" y="162.95" width="3" height="10.35" fill="#00ffff"/><rect x="372" y="162.95" width="2" height="10.35" fill="#8888ff"/><rect x="374" y="162.95" width="2" height="10.35" fill="#ff8888"/><rect x="376" y="162.95" width="2" height="10.35" fill="#8888ff"/><rect x="378" y="162.95" width="2" height="10.35" fill="#ff8888"/><rect x="380" y="162.95" width="2" height="10.35" fill="#8888ff"/><rect x="382" y="162.95" width="2" height="10.35" fill="#c0c0ff"/><rect x="384" y="162.95" width="5" height="10.35" fill="#8888ff"/><rect x="389" y="162.95" width="1" height="10.35" fill="#ffffff"/><rect x="390" y="162.95" width="6" height="10.35" fill="#8888ff"/><rect x="396" y="162.95" width="14" height="10.35" fill="#ff8888"/><rect x="410" y="162.95" width="11" height="10.35" fill="#8888ff"/><rect x="421" y="162.95" width="18" height="10.35" fill="#ff8888"/><rect x="439" y="162.95" width="26" height="10.35" fill="#8888ff"/><rect x="465" y="162.95" width="1" height="10.35" fill="#8888ff"/><rect x="466" y="162.95" width="5" height="10.35" fill="#8888ff"/><rect x="471" y="162.95" width="1.5" height="10.35" fill="#8888ff"/><rect x="472.5" y="162.95" width="4.5" height="10.35" fill="#8888ff"/><rect x="477" y="162.95" width="9" height="10.35" fill="#ff8888"/><rect x="486" y="162.95" width="11.5" height="10.35" fill="#8888ff"/><rect x="497.5" y="162.95" width="10.5" height="10.35" fill="#ff8888"/><rect x="508" y="162.95" width="9" height="10.35" fill="#8888ff"/><rect x="517" y="162.95" width="1" height="10.35" fill="#8888ff"/><rect x="518" y="162.95" width="21" height="10.35" fill="#8888ff"/><rect x="539" y="162.95" width="1" height="10.35" fill="#8888ff"/><rect x="540" y="162.95" width="1.6" height="10.35" fill="#8888ff"/><rect x="92" y="170.45" width="449.6" height="1.8" fill="#d2d4cc"/><rect x="91" y="161.15" width="452.2" height="1.8" fill="#000"/><rect x="92" y="175.1" width="12" height="10.35" fill="#8888ff"/><rect x="104" y="175.1" width="2" height="10.35" fill="#ff8888"/><rect x="106" y="175.1" width="13" height="10.35" fill="#8888ff"/><rect x="119" y="175.1" width="1" height="10.35" fill="#ff8888"/><rect x="120" y="175.1" width="4.5" height="10.35" fill="#8888ff"/><rect x="124.5" y="175.1" width="3" height="10.35" fill="#ff8888"/><rect x="127.5" y="175.1" width="3" height="10.35" fill="#8888ff"/><rect x="130.5" y="175.1" width="9.5" height="10.35" fill="#ff8888"/><rect x="140" y="175.1" width="33" height="10.35" fill="#8888ff"/><rect x="173" y="175.1" width="1.5" height="10.35" fill="#00ffff"/><rect x="174.5" y="175.1" width="11.5" height="10.35" fill="#ff8888"/><rect x="186" y="175.1" width="1.5" height="10.35" fill="#00ffff"/><rect x="187.5" y="175.1" width="6.5" height="10.35" fill="#8888ff"/><rect x="194" y="175.1" width="3" height="10.35" fill="#ff8888"/><rect x="197" y="175.1" width="2" height="10.35" fill="#00ffff"/><rect x="199" y="175.1" width="1" height="10.35" fill="#ff8888"/><rect x="200" y="175.1" width="3" height="10.35" fill="#00ffff"/><rect x="203" y="175.1" width="2" height="10.35" fill="#ff8888"/><rect x="205" y="175.1" width="2" height="10.35" fill="#00ffff"/><rect x="207" y="175.1" width="1.5" height="10.35" fill="#ff8888"/><rect x="208.5" y="175.1" width="1.5" height="10.35" fill="#00ffff"/><rect x="210" y="175.1" width="2" height="10.35" fill="#ff8888"/><rect x="212" y="175.1" width="7" height="10.35" fill="#00ffff"/><rect x="219" y="175.1" width="2" height="10.35" fill="#ff8888"/><rect x="221" y="175.1" width="2" height="10.35" fill="#00ffff"/><rect x="223" y="175.1" width="7" height="10.35" fill="#ff8888"/><rect x="230" y="175.1" width="2" height="10.35" fill="#00ffff"/><rect x="232" y="175.1" width="33" height="10.35" fill="#8888ff"/><rect x="265" y="175.1" width="5" height="10.35" fill="#ff8888"/><rect x="270" y="175.1" width="24" height="10.35" fill="#8888ff"/><rect x="294" y="175.1" width="2" height="10.35" fill="#ff8888"/><rect x="296" y="175.1" width="2" height="10.35" fill="#00ffff"/><rect x="298" y="175.1" width="2" height="10.35" fill="#8888ff"/><rect x="300" y="175.1" width="2" height="10.35" fill="#ff8888"/><rect x="302" y="175.1" width="23" height="10.35" fill="#8888ff"/><rect x="325" y="175.1" width="3" height="10.35" fill="#ff8888"/><rect x="328" y="175.1" width="15.5" height="10.35" fill="#8888ff"/><rect x="343.5" y="175.1" width="1.5" height="10.35" fill="#ff8888"/><rect x="345" y="175.1" width="2.5" height="10.35" fill="#8888ff"/><rect x="347.5" y="175.1" width="2" height="10.35" fill="#ff8888"/><rect x="349.5" y="175.1" width="8.5" height="10.35" fill="#8888ff"/><rect x="358" y="175.1" width="5" height="10.35" fill="#ff8888"/><rect x="363" y="175.1" width="2" height="10.35" fill="#8888ff"/><rect x="365" y="175.1" width="2" height="10.35" fill="#ff8888"/><rect x="367" y="175.1" width="2" height="10.35" fill="#8888ff"/><rect x="369" y="175.1" width="3" height="10.35" fill="#00ffff"/><rect x="372" y="175.1" width="2" height="10.35" fill="#8888ff"/><rect x="374" y="175.1" width="2" height="10.35" fill="#ff8888"/><rect x="376" y="175.1" width="2" height="10.35" fill="#8888ff"/><rect x="378" y="175.1" width="2" height="10.35" fill="#ff8888"/><rect x="380" y="175.1" width="2" height="10.35" fill="#8888ff"/><rect x="382" y="175.1" width="2" height="10.35" fill="#c0c0ff"/><rect x="384" y="175.1" width="5" height="10.35" fill="#8888ff"/><rect x="389" y="175.1" width="1" height="10.35" fill="#ffffff"/><rect x="390" y="175.1" width="6" height="10.35" fill="#8888ff"/><rect x="396" y="175.1" width="14" height="10.35" fill="#ff8888"/><rect x="410" y="175.1" width="11" height="10.35" fill="#8888ff"/><rect x="421" y="175.1" width="18" height="10.35" fill="#ff8888"/><rect x="439" y="175.1" width="26" height="10.35" fill="#8888ff"/><rect x="465" y="175.1" width="1" height="10.35" fill="#8888ff"/><rect x="466" y="175.1" width="5" height="10.35" fill="#8888ff"/><rect x="471" y="175.1" width="1.5" height="10.35" fill="#8888ff"/><rect x="472.5" y="175.1" width="4.5" height="10.35" fill="#8888ff"/><rect x="477" y="175.1" width="9" height="10.35" fill="#ff8888"/><rect x="486" y="175.1" width="11.5" height="10.35" fill="#8888ff"/><rect x="497.5" y="175.1" width="10.5" height="10.35" fill="#ff8888"/><rect x="508" y="175.1" width="9" height="10.35" fill="#8888ff"/><rect x="517" y="175.1" width="1" height="10.35" fill="#8888ff"/><rect x="518" y="175.1" width="21" height="10.35" fill="#8888ff"/><rect x="539" y="175.1" width="1" height="10.35" fill="#8888ff"/><rect x="540" y="175.1" width="1.6" height="10.35" fill="#8888ff"/><rect x="92" y="182.6" width="449.6" height="1.8" fill="#d2d4cc"/><rect x="91" y="173.3" width="452.2" height="1.8" fill="#000"/><rect x="92" y="187.25" width="12" height="10.35" fill="#8888ff"/><rect x="104" y="187.25" width="2" height="10.35" fill="#ff8888"/><rect x="106" y="187.25" width="13" height="10.35" fill="#8888ff"/><rect x="119" y="187.25" width="1" height="10.35" fill="#ff8888"/><rect x="120" y="187.25" width="4.5" height="10.35" fill="#8888ff"/><rect x="124.5" y="187.25" width="3" height="10.35" fill="#ff8888"/><rect x="127.5" y="187.25" width="3" height="10.35" fill="#8888ff"/><rect x="130.5" y="187.25" width="9.5" height="10.35" fill="#ff8888"/><rect x="140" y="187.25" width="33" height="10.35" fill="#8888ff"/><rect x="173" y="187.25" width="1.5" height="10.35" fill="#00ffff"/><rect x="174.5" y="187.25" width="11.5" height="10.35" fill="#ff8888"/><rect x="186" y="187.25" width="1.5" height="10.35" fill="#00ffff"/><rect x="187.5" y="187.25" width="6.5" height="10.35" fill="#8888ff"/><rect x="194" y="187.25" width="3" height="10.35" fill="#ff8888"/><rect x="197" y="187.25" width="2" height="10.35" fill="#00ffff"/><rect x="199" y="187.25" width="1" height="10.35" fill="#ff8888"/><rect x="200" y="187.25" width="3" height="10.35" fill="#00ffff"/><rect x="203" y="187.25" width="2" height="10.35" fill="#ff8888"/><rect x="205" y="187.25" width="2" height="10.35" fill="#00ffff"/><rect x="207" y="187.25" width="1.5" height="10.35" fill="#ff8888"/><rect x="208.5" y="187.25" width="1.5" height="10.35" fill="#00ffff"/><rect x="210" y="187.25" width="2" height="10.35" fill="#ff8888"/><rect x="212" y="187.25" width="7" height="10.35" fill="#00ffff"/><rect x="219" y="187.25" width="2" height="10.35" fill="#ff8888"/><rect x="221" y="187.25" width="2" height="10.35" fill="#00ffff"/><rect x="223" y="187.25" width="7" height="10.35" fill="#ff8888"/><rect x="230" y="187.25" width="2" height="10.35" fill="#00ffff"/><rect x="232" y="187.25" width="33" height="10.35" fill="#8888ff"/><rect x="265" y="187.25" width="5" height="10.35" fill="#ff8888"/><rect x="270" y="187.25" width="24" height="10.35" fill="#8888ff"/><rect x="294" y="187.25" width="2" height="10.35" fill="#ff8888"/><rect x="296" y="187.25" width="2" height="10.35" fill="#00ffff"/><rect x="298" y="187.25" width="2" height="10.35" fill="#8888ff"/><rect x="300" y="187.25" width="2" height="10.35" fill="#ff8888"/><rect x="302" y="187.25" width="23" height="10.35" fill="#8888ff"/><rect x="325" y="187.25" width="3" height="10.35" fill="#ff8888"/><rect x="328" y="187.25" width="15.5" height="10.35" fill="#8888ff"/><rect x="343.5" y="187.25" width="1.5" height="10.35" fill="#ff8888"/><rect x="345" y="187.25" width="2.5" height="10.35" fill="#8888ff"/><rect x="347.5" y="187.25" width="2" height="10.35" fill="#ff8888"/><rect x="349.5" y="187.25" width="8.5" height="10.35" fill="#8888ff"/><rect x="358" y="187.25" width="5" height="10.35" fill="#ff8888"/><rect x="363" y="187.25" width="2" height="10.35" fill="#8888ff"/><rect x="365" y="187.25" width="2" height="10.35" fill="#ff8888"/><rect x="367" y="187.25" width="2" height="10.35" fill="#8888ff"/><rect x="369" y="187.25" width="3" height="10.35" fill="#00ffff"/><rect x="372" y="187.25" width="2" height="10.35" fill="#8888ff"/><rect x="374" y="187.25" width="2" height="10.35" fill="#ff8888"/><rect x="376" y="187.25" width="2" height="10.35" fill="#8888ff"/><rect x="378" y="187.25" width="2" height="10.35" fill="#ff8888"/><rect x="380" y="187.25" width="2" height="10.35" fill="#8888ff"/><rect x="382" y="187.25" width="2" height="10.35" fill="#c0c0ff"/><rect x="384" y="187.25" width="5" height="10.35" fill="#8888ff"/><rect x="389" y="187.25" width="1" height="10.35" fill="#ffffff"/><rect x="390" y="187.25" width="6" height="10.35" fill="#8888ff"/><rect x="396" y="187.25" width="14" height="10.35" fill="#ff8888"/><rect x="410" y="187.25" width="11" height="10.35" fill="#8888ff"/><rect x="421" y="187.25" width="18" height="10.35" fill="#ff8888"/><rect x="439" y="187.25" width="26" height="10.35" fill="#8888ff"/><rect x="465" y="187.25" width="1" height="10.35" fill="#8888ff"/><rect x="466" y="187.25" width="5" height="10.35" fill="#8888ff"/><rect x="471" y="187.25" width="1.5" height="10.35" fill="#8888ff"/><rect x="472.5" y="187.25" width="4.5" height="10.35" fill="#8888ff"/><rect x="477" y="187.25" width="9" height="10.35" fill="#ff8888"/><rect x="486" y="187.25" width="11.5" height="10.35" fill="#8888ff"/><rect x="497.5" y="187.25" width="10.5" height="10.35" fill="#ff8888"/><rect x="508" y="187.25" width="9" height="10.35" fill="#8888ff"/><rect x="517" y="187.25" width="1" height="10.35" fill="#8888ff"/><rect x="518" y="187.25" width="21" height="10.35" fill="#8888ff"/><rect x="539" y="187.25" width="1" height="10.35" fill="#8888ff"/><rect x="540" y="187.25" width="1.6" height="10.35" fill="#8888ff"/><rect x="92" y="194.75" width="449.6" height="1.8" fill="#d2d4cc"/><rect x="91" y="185.45" width="452.2" height="1.8" fill="#000"/><rect x="91" y="197.6" width="452.2" height="1.8" fill="#000"/><line x1="465.5" y1="131.25" x2="465.5" y2="197.5" stroke="#fff" stroke-width="0.9" stroke-dasharray="2.2,0.8"/><line x1="472" y1="131.25" x2="472" y2="197.5" stroke="#fff" stroke-width="0.9" stroke-dasharray="2.2,0.8"/><line x1="517.5" y1="131.25" x2="517.5" y2="197.5" stroke="#fff" stroke-width="0.9" stroke-dasharray="2.2,0.8"/><line x1="539.5" y1="131.25" x2="539.5" y2="197.5" stroke="#fff" stroke-width="0.9" stroke-dasharray="2.2,0.8"/><polygon points="92,138.65 93.6,138.65 92,144.65" fill="#e8e0e0"/><polygon points="540.4,138.65 541.6,138.65 541.6,145.65" fill="#eee"/><polygon points="475.7,138.65 477,143.65 478.3,138.65" fill="#fff" stroke="#222" stroke-width="0.6"/><polygon points="496.9,138.65 498,141.65 499.1,138.65" fill="#1a1a1a"/><polygon points="194.7,138.65 196,141.65 197.3,138.65" fill="#fff" stroke="#222" stroke-width="0.6"/><polygon points="206.9,138.65 208,144.65 209.1,138.65" fill="#1a1a1a"/><polygon points="223.9,138.65 225,141.65 226.1,138.65" fill="#1a1a1a"/><polygon points="227.9,138.65 229,142.65 230.1,138.65" fill="#1a1a1a"/><polygon points="266.7,138.65 268,141.65 269.3,138.65" fill="#fff" stroke="#222" stroke-width="0.6"/><polygon points="363.9,138.65 365,142.65 366.1,138.65" fill="#1a1a1a"/><polygon points="347.7,138.65 349,141.15 350.3,138.65" fill="#fff" stroke="#222" stroke-width="0.6"/><polygon points="303.7,138.65 305,140.65 306.3,138.65" fill="#fff" stroke="#222" stroke-width="0.6"/><polygon points="376.9,138.65 378,141.15 379.1,138.65" fill="#1a1a1a"/><polygon points="103.2,138.65 104,140.25 104.8,138.65" fill="#222"/><polygon points="117.2,138.65 118,140.25 118.8,138.65" fill="#222"/><polygon points="174.2,138.65 175,140.25 175.8,138.65" fill="#222"/><polygon points="179.2,138.65 180,140.25 180.8,138.65" fill="#222"/><polygon points="186.2,138.65 187,140.25 187.8,138.65" fill="#222"/><polygon points="421.2,138.65 422,140.25 422.8,138.65" fill="#222"/><polygon points="426.2,138.65 427,140.25 427.8,138.65" fill="#222"/><polygon points="432.2,138.65 433,140.25 433.8,138.65" fill="#222"/><polygon points="436.2,138.65 437,140.25 437.8,138.65" fill="#222"/><polygon points="465.2,138.65 466,140.25 466.8,138.65" fill="#222"/><polygon points="471.2,138.65 472,140.25 472.8,138.65" fill="#222"/><polygon points="92,150.8 93.6,150.8 92,156.8" fill="#e8e0e0"/><polygon points="540.4,150.8 541.6,150.8 541.6,157.8" fill="#eee"/><polygon points="475.7,150.8 477,155.8 478.3,150.8" fill="#fff" stroke="#222" stroke-width="0.6"/><polygon points="424.9,150.8 426,154.8 427.1,150.8" fill="#1a1a1a"/><polygon points="496.9,150.8 498,153.8 499.1,150.8" fill="#1a1a1a"/><polygon points="194.7,150.8 196,153.8 197.3,150.8" fill="#fff" stroke="#222" stroke-width="0.6"/><polygon points="206.9,150.8 208,156.8 209.1,150.8" fill="#1a1a1a"/><polygon points="223.9,150.8 225,153.8 226.1,150.8" fill="#1a1a1a"/><polygon points="227.9,150.8 229,154.8 230.1,150.8" fill="#1a1a1a"/><polygon points="266.7,150.8 268,153.8 269.3,150.8" fill="#fff" stroke="#222" stroke-width="0.6"/><polygon points="363.9,150.8 365,154.8 366.1,150.8" fill="#1a1a1a"/><polygon points="347.7,150.8 349,153.3 350.3,150.8" fill="#fff" stroke="#222" stroke-width="0.6"/><polygon points="303.7,150.8 305,152.8 306.3,150.8" fill="#fff" stroke="#222" stroke-width="0.6"/><polygon points="376.9,150.8 378,153.3 379.1,150.8" fill="#1a1a1a"/><polygon points="103.2,150.8 104,152.4 104.8,150.8" fill="#222"/><polygon points="117.2,150.8 118,152.4 118.8,150.8" fill="#222"/><polygon points="174.2,150.8 175,152.4 175.8,150.8" fill="#222"/><polygon points="179.2,150.8 180,152.4 180.8,150.8" fill="#222"/><polygon points="186.2,150.8 187,152.4 187.8,150.8" fill="#222"/><polygon points="421.2,150.8 422,152.4 422.8,150.8" fill="#222"/><polygon points="426.2,150.8 427,152.4 427.8,150.8" fill="#222"/><polygon points="432.2,150.8 433,152.4 433.8,150.8" fill="#222"/><polygon points="436.2,150.8 437,152.4 437.8,150.8" fill="#222"/><polygon points="465.2,150.8 466,152.4 466.8,150.8" fill="#222"/><polygon points="471.2,150.8 472,152.4 472.8,150.8" fill="#222"/><polygon points="92,162.95 93.6,162.95 92,168.95" fill="#e8e0e0"/><polygon points="540.4,162.95 541.6,162.95 541.6,169.95" fill="#eee"/><polygon points="475.7,162.95 477,167.95 478.3,162.95" fill="#fff" stroke="#222" stroke-width="0.6"/><polygon points="496.9,162.95 498,165.95 499.1,162.95" fill="#1a1a1a"/><polygon points="194.7,162.95 196,165.95 197.3,162.95" fill="#fff" stroke="#222" stroke-width="0.6"/><polygon points="206.9,162.95 208,168.95 209.1,162.95" fill="#1a1a1a"/><polygon points="223.9,162.95 225,165.95 226.1,162.95" fill="#1a1a1a"/><polygon points="227.9,162.95 229,166.95 230.1,162.95" fill="#1a1a1a"/><polygon points="266.7,162.95 268,165.95 269.3,162.95" fill="#fff" stroke="#222" stroke-width="0.6"/><polygon points="363.9,162.95 365,166.95 366.1,162.95" fill="#1a1a1a"/><polygon points="347.7,162.95 349,165.45 350.3,162.95" fill="#fff" stroke="#222" stroke-width="0.6"/><polygon points="303.7,162.95 305,164.95 306.3,162.95" fill="#fff" stroke="#222" stroke-width="0.6"/><polygon points="376.9,162.95 378,165.45 379.1,162.95" fill="#1a1a1a"/><polygon points="103.2,162.95 104,164.55 104.8,162.95" fill="#222"/><polygon points="117.2,162.95 118,164.55 118.8,162.95" fill="#222"/><polygon points="174.2,162.95 175,164.55 175.8,162.95" fill="#222"/><polygon points="179.2,162.95 180,164.55 180.8,162.95" fill="#222"/><polygon points="186.2,162.95 187,164.55 187.8,162.95" fill="#222"/><polygon points="421.2,162.95 422,164.55 422.8,162.95" fill="#222"/><polygon points="426.2,162.95 427,164.55 427.8,162.95" fill="#222"/><polygon points="432.2,162.95 433,164.55 433.8,162.95" fill="#222"/><polygon points="436.2,162.95 437,164.55 437.8,162.95" fill="#222"/><polygon points="465.2,162.95 466,164.55 466.8,162.95" fill="#222"/><polygon points="471.2,162.95 472,164.55 472.8,162.95" fill="#222"/><polygon points="92,175.1 93.6,175.1 92,181.1" fill="#e8e0e0"/><polygon points="540.4,175.1 541.6,175.1 541.6,182.1" fill="#eee"/><polygon points="124.9,175.1 126,179.1 127.1,175.1" fill="#1a1a1a"/><polygon points="184.9,175.1 186,179.1 187.1,175.1" fill="#1a1a1a"/><polygon points="194.7,175.1 196,178.1 197.3,175.1" fill="#fff" stroke="#222" stroke-width="0.6"/><polygon points="206.9,175.1 208,181.1 209.1,175.1" fill="#1a1a1a"/><polygon points="223.9,175.1 225,178.1 226.1,175.1" fill="#1a1a1a"/><polygon points="227.9,175.1 229,179.1 230.1,175.1" fill="#1a1a1a"/><polygon points="266.7,175.1 268,178.1 269.3,175.1" fill="#fff" stroke="#222" stroke-width="0.6"/><polygon points="324.9,175.1 326,180.1 327.1,175.1" fill="#1a1a1a"/><polygon points="347.7,175.1 349,177.6 350.3,175.1" fill="#fff" stroke="#222" stroke-width="0.6"/><polygon points="303.7,175.1 305,177.1 306.3,175.1" fill="#fff" stroke="#222" stroke-width="0.6"/><polygon points="376.9,175.1 378,177.6 379.1,175.1" fill="#1a1a1a"/><polygon points="387.9,175.1 389,179.1 390.1,175.1" fill="#1a1a1a"/><polygon points="103.2,175.1 104,176.7 104.8,175.1" fill="#222"/><polygon points="117.2,175.1 118,176.7 118.8,175.1" fill="#222"/><polygon points="174.2,175.1 175,176.7 175.8,175.1" fill="#222"/><polygon points="179.2,175.1 180,176.7 180.8,175.1" fill="#222"/><polygon points="186.2,175.1 187,176.7 187.8,175.1" fill="#222"/><polygon points="421.2,175.1 422,176.7 422.8,175.1" fill="#222"/><polygon points="426.2,175.1 427,176.7 427.8,175.1" fill="#222"/><polygon points="432.2,175.1 433,176.7 433.8,175.1" fill="#222"/><polygon points="436.2,175.1 437,176.7 437.8,175.1" fill="#222"/><polygon points="465.2,175.1 466,176.7 466.8,175.1" fill="#222"/><polygon points="471.2,175.1 472,176.7 472.8,175.1" fill="#222"/><polygon points="92,187.25 93.6,187.25 92,193.25" fill="#e8e0e0"/><polygon points="540.4,187.25 541.6,187.25 541.6,194.25" fill="#eee"/><polygon points="194.7,187.25 196,190.25 197.3,187.25" fill="#fff" stroke="#222" stroke-width="0.6"/><polygon points="206.9,187.25 208,193.25 209.1,187.25" fill="#1a1a1a"/><polygon points="223.9,187.25 225,190.25 226.1,187.25" fill="#1a1a1a"/><polygon points="227.9,187.25 229,191.25 230.1,187.25" fill="#1a1a1a"/><polygon points="266.7,187.25 268,190.25 269.3,187.25" fill="#fff" stroke="#222" stroke-width="0.6"/><polygon points="360.9,187.25 362,193.25 363.1,187.25" fill="#1a1a1a"/><polygon points="347.7,187.25 349,189.75 350.3,187.25" fill="#fff" stroke="#222" stroke-width="0.6"/><polygon points="303.7,187.25 305,189.25 306.3,187.25" fill="#fff" stroke="#222" stroke-width="0.6"/><polygon points="376.9,187.25 378,189.75 379.1,187.25" fill="#1a1a1a"/><polygon points="103.2,187.25 104,188.85 104.8,187.25" fill="#222"/><polygon points="117.2,187.25 118,188.85 118.8,187.25" fill="#222"/><polygon points="174.2,187.25 175,188.85 175.8,187.25" fill="#222"/><polygon points="179.2,187.25 180,188.85 180.8,187.25" fill="#222"/><polygon points="186.2,187.25 187,188.85 187.8,187.25" fill="#222"/><polygon points="421.2,187.25 422,188.85 422.8,187.25" fill="#222"/><polygon points="426.2,187.25 427,188.85 427.8,187.25" fill="#222"/><polygon points="432.2,187.25 433,188.85 433.8,187.25" fill="#222"/><polygon points="436.2,187.25 437,188.85 437.8,187.25" fill="#222"/><polygon points="465.2,187.25 466,188.85 466.8,187.25" fill="#222"/><polygon points="471.2,187.25 472,188.85 472.8,187.25" fill="#222"/><rect x="91" y="136.75" width="1.6" height="62.75" fill="#000"/><rect x="541.6" y="136.75" width="1.6" height="62.75" fill="#000"/><rect x="109.88" y="199.4" width="1" height="1.9" fill="#222"/><rect x="134.44" y="199.4" width="1" height="2.4" fill="#222"/><text class="ax" x="134.94" y="207.4" text-anchor="middle">30k</text><rect x="159" y="199.4" width="1" height="1.9" fill="#222"/><rect x="183.56" y="199.4" width="1" height="2.4" fill="#222"/><text class="ax" x="184.06" y="207.4" text-anchor="middle">33k</text><rect x="208.13" y="199.4" width="1" height="1.9" fill="#222"/><rect x="232.69" y="199.4" width="1" height="2.4" fill="#222"/><text class="ax" x="233.19" y="207.4" text-anchor="middle">36k</text><rect x="257.25" y="199.4" width="1" height="1.9" fill="#222"/><rect x="281.81" y="199.4" width="1" height="2.4" fill="#222"/><text class="ax" x="282.31" y="207.4" text-anchor="middle">39k</text><rect x="306.38" y="199.4" width="1" height="1.9" fill="#222"/><rect x="330.94" y="199.4" width="1" height="2.4" fill="#222"/><text class="ax" x="331.44" y="207.4" text-anchor="middle">42k</text><rect x="355.5" y="199.4" width="1" height="1.9" fill="#222"/><rect x="380.06" y="199.4" width="1" height="2.4" fill="#222"/><text class="ax" x="380.56" y="207.4" text-anchor="middle">45k</text><rect x="404.63" y="199.4" width="1" height="1.9" fill="#222"/><rect x="429.19" y="199.4" width="1" height="2.4" fill="#222"/><text class="ax" x="429.69" y="207.4" text-anchor="middle">48k</text><rect x="453.75" y="199.4" width="1" height="1.9" fill="#222"/><rect x="478.31" y="199.4" width="1" height="2.4" fill="#222"/><text class="ax" x="478.81" y="207.4" text-anchor="middle">51k</text><rect x="502.88" y="199.4" width="1" height="1.9" fill="#222"/><rect x="527.44" y="199.4" width="1" height="2.4" fill="#222"/><text class="ax" x="527.94" y="207.4" text-anchor="middle">54k</text><rect x="92" y="123.55" width="8.8" height="1.9" fill="#6e6e6e"/><polygon points="100.8,122.6 104,124.5 100.8,126.4" fill="#6e6e6e"/><rect x="106" y="123.55" width="8.8" height="1.9" fill="#6e6e6e"/><polygon points="114.8,122.6 118,124.5 114.8,126.4" fill="#6e6e6e"/><rect x="116" y="123.55" width="1.2" height="1.9" fill="#6e6e6e"/><polygon points="117.2,122.6 120,124.5 117.2,126.4" fill="#6e6e6e"/><rect x="128" y="123.55" width="14.8" height="1.9" fill="#6e6e6e"/><polygon points="142.8,122.6 146,124.5 142.8,126.4" fill="#6e6e6e"/><rect x="147" y="123.55" width="21.8" height="1.9" fill="#6e6e6e"/><polygon points="168.8,122.6 172,124.5 168.8,126.4" fill="#6e6e6e"/><rect x="174.2" y="113.55" width="0.1" height="1.9" fill="#6e6e6e"/><polygon points="174.2,112.6 172,114.5 174.2,116.4" fill="#6e6e6e"/><rect x="189.2" y="113.55" width="0.8" height="1.9" fill="#6e6e6e"/><polygon points="189.2,112.6 187,114.5 189.2,116.4" fill="#6e6e6e"/><rect x="186" y="123.55" width="0.1" height="1.9" fill="#6e6e6e"/><polygon points="185.8,122.6 188,124.5 185.8,126.4" fill="#6e6e6e"/><rect x="192.2" y="123.55" width="0.8" height="1.9" fill="#6e6e6e"/><polygon points="192.2,122.6 190,124.5 192.2,126.4" fill="#6e6e6e"/><rect x="195" y="123.55" width="0.1" height="1.9" fill="#6e6e6e"/><polygon points="194.8,122.6 197,124.5 194.8,126.4" fill="#6e6e6e"/><rect x="199" y="123.55" width="0.1" height="1.9" fill="#6e6e6e"/><polygon points="198.8,122.6 201,124.5 198.8,126.4" fill="#6e6e6e"/><rect x="203" y="123.55" width="0.1" height="1.9" fill="#6e6e6e"/><polygon points="202.8,122.6 205,124.5 202.8,126.4" fill="#6e6e6e"/><rect x="209.2" y="123.55" width="0.1" height="1.9" fill="#6e6e6e"/><polygon points="209.2,122.6 207,124.5 209.2,126.4" fill="#6e6e6e"/><rect x="211" y="123.55" width="0.8" height="1.9" fill="#6e6e6e"/><polygon points="211.8,122.6 214,124.5 211.8,126.4" fill="#6e6e6e"/><rect x="218.2" y="123.55" width="3.8" height="1.9" fill="#6e6e6e"/><polygon points="218.2,122.6 215,124.5 218.2,126.4" fill="#6e6e6e"/><rect x="232.2" y="123.55" width="32.8" height="1.9" fill="#6e6e6e"/><polygon points="232.2,122.6 229,124.5 232.2,126.4" fill="#6e6e6e"/><rect x="270" y="123.55" width="20.8" height="1.9" fill="#6e6e6e"/><polygon points="290.8,122.6 294,124.5 290.8,126.4" fill="#6e6e6e"/><rect x="296.2" y="123.55" width="0.8" height="1.9" fill="#6e6e6e"/><polygon points="296.2,122.6 294,124.5 296.2,126.4" fill="#6e6e6e"/><rect x="303" y="123.55" width="19.8" height="1.9" fill="#6e6e6e"/><polygon points="322.8,122.6 326,124.5 322.8,126.4" fill="#6e6e6e"/><rect x="328" y="123.55" width="12.8" height="1.9" fill="#6e6e6e"/><polygon points="340.8,122.6 344,124.5 340.8,126.4" fill="#6e6e6e"/><rect x="347.2" y="123.55" width="0.1" height="1.9" fill="#6e6e6e"/><polygon points="347.2,122.6 345,124.5 347.2,126.4" fill="#6e6e6e"/><rect x="351.2" y="123.55" width="0.1" height="1.9" fill="#6e6e6e"/><polygon points="351.2,122.6 349,124.5 351.2,126.4" fill="#6e6e6e"/><rect x="355.8" y="123.55" width="1.2" height="1.9" fill="#6e6e6e"/><polygon points="355.8,122.6 353,124.5 355.8,126.4" fill="#6e6e6e"/><rect x="361.2" y="123.55" width="0.8" height="1.9" fill="#6e6e6e"/><polygon points="361.2,122.6 359,124.5 361.2,126.4" fill="#6e6e6e"/><rect x="364" y="123.55" width="0.1" height="1.9" fill="#6e6e6e"/><polygon points="363.8,122.6 366,124.5 363.8,126.4" fill="#6e6e6e"/><rect x="369" y="123.55" width="0.8" height="1.9" fill="#6e6e6e"/><polygon points="369.8,122.6 372,124.5 369.8,126.4" fill="#6e6e6e"/><rect x="378.2" y="123.55" width="0.8" height="1.9" fill="#6e6e6e"/><polygon points="378.2,122.6 376,124.5 378.2,126.4" fill="#6e6e6e"/><rect x="383.2" y="123.55" width="0.8" height="1.9" fill="#6e6e6e"/><polygon points="383.2,122.6 381,124.5 383.2,126.4" fill="#6e6e6e"/><rect x="389.2" y="123.55" width="2.8" height="1.9" fill="#6e6e6e"/><polygon points="389.2,122.6 386,124.5 389.2,126.4" fill="#6e6e6e"/><rect x="399.2" y="123.55" width="9.8" height="1.9" fill="#6e6e6e"/><polygon points="399.2,122.6 396,124.5 399.2,126.4" fill="#6e6e6e"/><rect x="413.2" y="123.55" width="7.8" height="1.9" fill="#6e6e6e"/><polygon points="413.2,122.6 410,124.5 413.2,126.4" fill="#6e6e6e"/><rect x="407.2" y="113.55" width="0.8" height="1.9" fill="#6e6e6e"/><polygon points="407.2,112.6 405,114.5 407.2,116.4" fill="#6e6e6e"/><rect x="439" y="123.55" width="21.8" height="1.9" fill="#6e6e6e"/><polygon points="460.8,122.6 464,124.5 460.8,126.4" fill="#6e6e6e"/><rect x="466" y="123.55" width="1.8" height="1.9" fill="#6e6e6e"/><polygon points="467.8,122.6 471,124.5 467.8,126.4" fill="#6e6e6e"/><rect x="475.2" y="123.55" width="0.8" height="1.9" fill="#6e6e6e"/><polygon points="475.2,122.6 473,124.5 475.2,126.4" fill="#6e6e6e"/><rect x="478" y="123.55" width="17.8" height="1.9" fill="#6e6e6e"/><polygon points="495.8,122.6 499,124.5 495.8,126.4" fill="#6e6e6e"/><rect x="499" y="123.55" width="13.8" height="1.9" fill="#6e6e6e"/><polygon points="512.8,122.6 516,124.5 512.8,126.4" fill="#6e6e6e"/><rect x="521.2" y="123.55" width="9.8" height="1.9" fill="#6e6e6e"/><polygon points="521.2,122.6 518,124.5 521.2,126.4" fill="#6e6e6e"/><rect x="535.2" y="113.55" width="1.8" height="1.9" fill="#6e6e6e"/><polygon points="535.2,112.6 532,114.5 535.2,116.4" fill="#6e6e6e"/><rect x="540.2" y="123.55" width="0.1" height="1.9" fill="#6e6e6e"/><polygon points="540.2,122.6 538,124.5 540.2,126.4" fill="#6e6e6e"/><text class="l" x="91" y="121.8">rps2</text><text class="l" x="106" y="121.8">atpI</text><text class="l" x="116" y="130.8">atpH</text><text class="l" x="130" y="121.8">atpF</text><text class="l" x="150" y="121.8">atpA</text><text class="l" x="168" y="112">trnR</text><text class="l" x="185" y="112">psbI</text><text class="l" x="179" y="121.8">trnS</text><text class="l" x="192" y="121.8">trnQ</text><text class="l" x="203" y="117.8">trnE</text><text class="l" x="210" y="122.8">trnY</text><text class="l" x="221" y="122.8">trnD</text><text class="l" x="231" y="122.8">trnfM</text><text class="l" x="186" y="130.8">psbK</text><text class="l" x="203" y="130.8">trnT</text><text class="l" x="213" y="130.8">trnL</text><text class="l" x="229" y="130.8">trnI</text><text class="l" x="250" y="121.8">atpB</text><text class="l" x="273" y="122.8">rbcL</text><text class="l" x="290" y="121.8">psaI</text><text class="l" x="303" y="130.8">ycf4</text><text class="l" x="311" y="121.8">cemA</text><text class="l" x="327" y="121.8">petA</text><text class="l" x="340" y="122.8">psbJ</text><text class="l" x="347" y="112">psbF</text><text class="l" x="351" y="117.8">psbE</text><text class="l" x="360" y="122.8">petG</text><text class="l" x="372" y="117.8">trnP</text><text class="l" x="380" y="122.8">psaJ</text><text class="l" x="345" y="130.8">psbL</text><text class="l" x="356" y="130.8">petL</text><text class="l" x="368" y="130.8">trnW</text><text class="l" x="386" y="130.8">rpl33</text><text class="l" x="403" y="112">rps12</text><text class="l" x="392" y="121.8">rpl20</text><text class="l" x="396" y="130.8">rps18</text><text class="l" x="410" y="121.8">clpP</text><text class="l" x="441" y="121.8">psbB</text><text class="l" x="459" y="121.8">psbT</text><text class="l" x="474" y="121.8">psbH</text><text class="l" x="467" y="130.8">psbN</text><text class="l" x="486" y="130.8">petB</text><text class="l" x="500" y="121.8">petD</text><text class="l" x="517" y="121.8">rpoA</text><text class="l" x="528" y="122.8">rpl36</text><text class="l" x="530" y="112">rps11</text><rect x="94" y="234.3" width="11" height="5.6" fill="#8888ff"/><rect x="107" y="234.3" width="6" height="5.6" fill="#8888ff"/><rect x="132" y="234.3" width="31" height="5.6" fill="#8888ff"/><rect x="171" y="234.3" width="6" height="5.6" fill="#8888ff"/><rect x="186" y="234.3" width="2" height="5.6" fill="#00ffff"/><rect x="191" y="234.3" width="2" height="5.6" fill="#00ffff"/><rect x="196" y="234.3" width="105" height="5.6" fill="#8888ff"/><rect x="305" y="234.3" width="2" height="5.6" fill="#00ffff"/><rect x="309" y="234.3" width="8" height="5.6" fill="#8888ff"/><rect x="342" y="234.3" width="2" height="5.6" fill="#00ffff"/><rect x="346" y="234.3" width="25" height="5.6" fill="#00ffff"/><rect x="374" y="234.3" width="2" height="5.6" fill="#00ffff"/><rect x="387" y="234.3" width="2" height="5.6" fill="#00ffff"/><rect x="402" y="234.3" width="1" height="5.6" fill="#00ffff"/><rect x="404" y="234.3" width="47" height="5.6" fill="#00ffff"/><rect x="452" y="234.3" width="1.5" height="5.6" fill="#00ffff"/><rect x="457" y="234.3" width="3" height="5.6" fill="#00ffff"/><rect x="462" y="234.3" width="1" height="5.6" fill="#00ffff"/><rect x="466" y="234.3" width="1" height="5.6" fill="#00ffff"/><rect x="473" y="234.3" width="38" height="5.6" fill="#8888ff"/><rect x="512" y="234.3" width="4" height="5.6" fill="#8888ff"/><rect x="521" y="234.3" width="4" height="5.6" fill="#8888ff"/><rect x="527" y="234.3" width="14" height="5.6" fill="#8888ff"/><rect x="92" y="241.7" width="13" height="10.35" fill="#8888ff"/><rect x="105" y="241.7" width="2" height="10.35" fill="#ff8888"/><rect x="107" y="241.7" width="6" height="10.35" fill="#8888ff"/><rect x="113" y="241.7" width="19" height="10.35" fill="#ff8888"/><rect x="132" y="241.7" width="31" height="10.35" fill="#8888ff"/><rect x="163" y="241.7" width="8" height="10.35" fill="#ff8888"/><rect x="171" y="241.7" width="6" height="10.35" fill="#8888ff"/><rect x="177" y="241.7" width="9" height="10.35" fill="#ff8888"/><rect x="186" y="241.7" width="2" height="10.35" fill="#00ffff"/><rect x="188" y="241.7" width="3" height="10.35" fill="#ff8888"/><rect x="191" y="241.7" width="2" height="10.35" fill="#00ffff"/><rect x="193" y="241.7" width="3" height="10.35" fill="#ff8888"/><rect x="196" y="241.7" width="105" height="10.35" fill="#8888ff"/><rect x="301" y="241.7" width="4" height="10.35" fill="#ff8888"/><rect x="305" y="241.7" width="2" height="10.35" fill="#00ffff"/><rect x="307" y="241.7" width="2" height="10.35" fill="#ff8888"/><rect x="309" y="241.7" width="8.4" height="10.35" fill="#8888ff"/><rect x="317.4" y="241.7" width="24.6" height="10.35" fill="#ff8888"/><rect x="342" y="241.7" width="2" height="10.35" fill="#00ffff"/><rect x="344" y="241.7" width="2" height="10.35" fill="#ff8888"/><rect x="346" y="241.7" width="25" height="10.35" fill="#00ffff"/><rect x="371" y="241.7" width="3" height="10.35" fill="#ff8888"/><rect x="374" y="241.7" width="2" height="10.35" fill="#00ffff"/><rect x="376" y="241.7" width="11" height="10.35" fill="#ff8888"/><rect x="387" y="241.7" width="2" height="10.35" fill="#00ffff"/><rect x="389" y="241.7" width="12.5" height="10.35" fill="#ff8888"/><rect x="401.5" y="241.7" width="1.5" height="10.35" fill="#d0e8e8"/><rect x="403" y="241.7" width="48" height="10.35" fill="#00ffff"/><rect x="451" y="241.7" width="1" height="10.35" fill="#00ffff"/><rect x="452" y="241.7" width="2" height="10.35" fill="#00ffff"/><rect x="454" y="241.7" width="3" height="10.35" fill="#ff8888"/><rect x="457" y="241.7" width="3" height="10.35" fill="#00ffff"/><rect x="460" y="241.7" width="2" height="10.35" fill="#ff8888"/><rect x="462" y="241.7" width="1" height="10.35" fill="#00ffff"/><rect x="463" y="241.7" width="2.6" height="10.35" fill="#ff8888"/><rect x="465.6" y="241.7" width="1.4" height="10.35" fill="#00ffff"/><rect x="467" y="241.7" width="6" height="10.35" fill="#ff8888"/><rect x="473" y="241.7" width="38" height="10.35" fill="#8888ff"/><rect x="511" y="241.7" width="1" height="10.35" fill="#ff8888"/><rect x="512" y="241.7" width="4" height="10.35" fill="#8888ff"/><rect x="516" y="241.7" width="5" height="10.35" fill="#ff8888"/><rect x="521" y="241.7" width="4" height="10.35" fill="#8888ff"/><rect x="525" y="241.7" width="2" height="10.35" fill="#ff8888"/><rect x="527" y="241.7" width="14.6" height="10.35" fill="#8888ff"/><rect x="92" y="249.2" width="449.6" height="1.8" fill="#d2d4cc"/><rect x="91" y="239.9" width="452.2" height="1.8" fill="#000"/><rect x="92" y="253.85" width="13" height="10.35" fill="#8888ff"/><rect x="105" y="253.85" width="2" height="10.35" fill="#ff8888"/><rect x="107" y="253.85" width="6" height="10.35" fill="#8888ff"/><rect x="113" y="253.85" width="19" height="10.35" fill="#ff8888"/><rect x="132" y="253.85" width="31" height="10.35" fill="#8888ff"/><rect x="163" y="253.85" width="8" height="10.35" fill="#ff8888"/><rect x="171" y="253.85" width="6" height="10.35" fill="#8888ff"/><rect x="177" y="253.85" width="9" height="10.35" fill="#ff8888"/><rect x="186" y="253.85" width="2" height="10.35" fill="#00ffff"/><rect x="188" y="253.85" width="3" height="10.35" fill="#ff8888"/><rect x="191" y="253.85" width="2" height="10.35" fill="#00ffff"/><rect x="193" y="253.85" width="3" height="10.35" fill="#ff8888"/><rect x="196" y="253.85" width="105" height="10.35" fill="#8888ff"/><rect x="301" y="253.85" width="4" height="10.35" fill="#ff8888"/><rect x="305" y="253.85" width="2" height="10.35" fill="#00ffff"/><rect x="307" y="253.85" width="2" height="10.35" fill="#ff8888"/><rect x="309" y="253.85" width="8.4" height="10.35" fill="#8888ff"/><rect x="317.4" y="253.85" width="24.6" height="10.35" fill="#ff8888"/><rect x="342" y="253.85" width="2" height="10.35" fill="#00ffff"/><rect x="344" y="253.85" width="2" height="10.35" fill="#ff8888"/><rect x="346" y="253.85" width="25" height="10.35" fill="#00ffff"/><rect x="371" y="253.85" width="3" height="10.35" fill="#ff8888"/><rect x="374" y="253.85" width="2" height="10.35" fill="#00ffff"/><rect x="376" y="253.85" width="11" height="10.35" fill="#ff8888"/><rect x="387" y="253.85" width="2" height="10.35" fill="#00ffff"/><rect x="389" y="253.85" width="12.5" height="10.35" fill="#ff8888"/><rect x="401.5" y="253.85" width="1.5" height="10.35" fill="#d0e8e8"/><rect x="403" y="253.85" width="48" height="10.35" fill="#00ffff"/><rect x="451" y="253.85" width="1" height="10.35" fill="#00ffff"/><rect x="452" y="253.85" width="2" height="10.35" fill="#00ffff"/><rect x="454" y="253.85" width="3" height="10.35" fill="#ff8888"/><rect x="457" y="253.85" width="3" height="10.35" fill="#00ffff"/><rect x="460" y="253.85" width="2" height="10.35" fill="#ff8888"/><rect x="462" y="253.85" width="1" height="10.35" fill="#00ffff"/><rect x="463" y="253.85" width="2.6" height="10.35" fill="#ff8888"/><rect x="465.6" y="253.85" width="1.4" height="10.35" fill="#00ffff"/><rect x="467" y="253.85" width="6" height="10.35" fill="#ff8888"/><rect x="473" y="253.85" width="38" height="10.35" fill="#8888ff"/><rect x="511" y="253.85" width="1" height="10.35" fill="#ff8888"/><rect x="512" y="253.85" width="4" height="10.35" fill="#8888ff"/><rect x="516" y="253.85" width="5" height="10.35" fill="#ff8888"/><rect x="521" y="253.85" width="4" height="10.35" fill="#8888ff"/><rect x="525" y="253.85" width="2" height="10.35" fill="#ff8888"/><rect x="527" y="253.85" width="14.6" height="10.35" fill="#8888ff"/><rect x="92" y="261.35" width="449.6" height="1.8" fill="#d2d4cc"/><rect x="91" y="252.05" width="452.2" height="1.8" fill="#000"/><rect x="92" y="266" width="13" height="10.35" fill="#8888ff"/><rect x="105" y="266" width="2" height="10.35" fill="#ff8888"/><rect x="107" y="266" width="6" height="10.35" fill="#8888ff"/><rect x="113" y="266" width="19" height="10.35" fill="#ff8888"/><rect x="132" y="266" width="31" height="10.35" fill="#8888ff"/><rect x="163" y="266" width="8" height="10.35" fill="#ff8888"/><rect x="171" y="266" width="6" height="10.35" fill="#8888ff"/><rect x="177" y="266" width="9" height="10.35" fill="#ff8888"/><rect x="186" y="266" width="2" height="10.35" fill="#00ffff"/><rect x="188" y="266" width="3" height="10.35" fill="#ff8888"/><rect x="191" y="266" width="2" height="10.35" fill="#00ffff"/><rect x="193" y="266" width="3" height="10.35" fill="#ff8888"/><rect x="196" y="266" width="105" height="10.35" fill="#8888ff"/><rect x="301" y="266" width="4" height="10.35" fill="#ff8888"/><rect x="305" y="266" width="2" height="10.35" fill="#00ffff"/><rect x="307" y="266" width="2" height="10.35" fill="#ff8888"/><rect x="309" y="266" width="8.4" height="10.35" fill="#8888ff"/><rect x="317.4" y="266" width="24.6" height="10.35" fill="#ff8888"/><rect x="342" y="266" width="2" height="10.35" fill="#00ffff"/><rect x="344" y="266" width="2" height="10.35" fill="#ff8888"/><rect x="346" y="266" width="25" height="10.35" fill="#00ffff"/><rect x="371" y="266" width="3" height="10.35" fill="#ff8888"/><rect x="374" y="266" width="2" height="10.35" fill="#00ffff"/><rect x="376" y="266" width="11" height="10.35" fill="#ff8888"/><rect x="387" y="266" width="2" height="10.35" fill="#00ffff"/><rect x="389" y="266" width="12.5" height="10.35" fill="#ff8888"/><rect x="401.5" y="266" width="1.5" height="10.35" fill="#d0e8e8"/><rect x="403" y="266" width="48" height="10.35" fill="#00ffff"/><rect x="451" y="266" width="1" height="10.35" fill="#00ffff"/><rect x="452" y="266" width="2" height="10.35" fill="#00ffff"/><rect x="454" y="266" width="3" height="10.35" fill="#ff8888"/><rect x="457" y="266" width="3" height="10.35" fill="#00ffff"/><rect x="460" y="266" width="2" height="10.35" fill="#ff8888"/><rect x="462" y="266" width="1" height="10.35" fill="#00ffff"/><rect x="463" y="266" width="2.6" height="10.35" fill="#ff8888"/><rect x="465.6" y="266" width="1.4" height="10.35" fill="#00ffff"/><rect x="467" y="266" width="6" height="10.35" fill="#ff8888"/><rect x="473" y="266" width="38" height="10.35" fill="#8888ff"/><rect x="511" y="266" width="1" height="10.35" fill="#ff8888"/><rect x="512" y="266" width="4" height="10.35" fill="#8888ff"/><rect x="516" y="266" width="5" height="10.35" fill="#ff8888"/><rect x="521" y="266" width="4" height="10.35" fill="#8888ff"/><rect x="525" y="266" width="2" height="10.35" fill="#ff8888"/><rect x="527" y="266" width="14.6" height="10.35" fill="#8888ff"/><rect x="92" y="273.5" width="449.6" height="1.8" fill="#d2d4cc"/><rect x="91" y="264.2" width="452.2" height="1.8" fill="#000"/><rect x="92" y="278.15" width="13" height="10.35" fill="#8888ff"/><rect x="105" y="278.15" width="2" height="10.35" fill="#ff8888"/><rect x="107" y="278.15" width="6" height="10.35" fill="#8888ff"/><rect x="113" y="278.15" width="19" height="10.35" fill="#ff8888"/><rect x="132" y="278.15" width="31" height="10.35" fill="#8888ff"/><rect x="163" y="278.15" width="8" height="10.35" fill="#ff8888"/><rect x="171" y="278.15" width="6" height="10.35" fill="#8888ff"/><rect x="177" y="278.15" width="9" height="10.35" fill="#ff8888"/><rect x="186" y="278.15" width="2" height="10.35" fill="#00ffff"/><rect x="188" y="278.15" width="3" height="10.35" fill="#ff8888"/><rect x="191" y="278.15" width="2" height="10.35" fill="#00ffff"/><rect x="193" y="278.15" width="3" height="10.35" fill="#ff8888"/><rect x="196" y="278.15" width="105" height="10.35" fill="#8888ff"/><rect x="301" y="278.15" width="4" height="10.35" fill="#ff8888"/><rect x="305" y="278.15" width="2" height="10.35" fill="#00ffff"/><rect x="307" y="278.15" width="2" height="10.35" fill="#ff8888"/><rect x="309" y="278.15" width="8.4" height="10.35" fill="#8888ff"/><rect x="317.4" y="278.15" width="24.6" height="10.35" fill="#ff8888"/><rect x="342" y="278.15" width="2" height="10.35" fill="#00ffff"/><rect x="344" y="278.15" width="2" height="10.35" fill="#ff8888"/><rect x="346" y="278.15" width="25" height="10.35" fill="#00ffff"/><rect x="371" y="278.15" width="3" height="10.35" fill="#ff8888"/><rect x="374" y="278.15" width="2" height="10.35" fill="#00ffff"/><rect x="376" y="278.15" width="11" height="10.35" fill="#ff8888"/><rect x="387" y="278.15" width="2" height="10.35" fill="#00ffff"/><rect x="389" y="278.15" width="12.5" height="10.35" fill="#ff8888"/><rect x="401.5" y="278.15" width="1.5" height="10.35" fill="#d0e8e8"/><rect x="403" y="278.15" width="48" height="10.35" fill="#00ffff"/><rect x="451" y="278.15" width="1" height="10.35" fill="#00ffff"/><rect x="452" y="278.15" width="2" height="10.35" fill="#00ffff"/><rect x="454" y="278.15" width="3" height="10.35" fill="#ff8888"/><rect x="457" y="278.15" width="3" height="10.35" fill="#00ffff"/><rect x="460" y="278.15" width="2" height="10.35" fill="#ff8888"/><rect x="462" y="278.15" width="1" height="10.35" fill="#00ffff"/><rect x="463" y="278.15" width="2.6" height="10.35" fill="#ff8888"/><rect x="465.6" y="278.15" width="1.4" height="10.35" fill="#00ffff"/><rect x="467" y="278.15" width="6" height="10.35" fill="#ff8888"/><rect x="473" y="278.15" width="38" height="10.35" fill="#8888ff"/><rect x="511" y="278.15" width="1" height="10.35" fill="#ff8888"/><rect x="512" y="278.15" width="4" height="10.35" fill="#8888ff"/><rect x="516" y="278.15" width="5" height="10.35" fill="#ff8888"/><rect x="521" y="278.15" width="4" height="10.35" fill="#8888ff"/><rect x="525" y="278.15" width="2" height="10.35" fill="#ff8888"/><rect x="527" y="278.15" width="14.6" height="10.35" fill="#8888ff"/><rect x="92" y="285.65" width="449.6" height="1.8" fill="#d2d4cc"/><rect x="91" y="276.35" width="452.2" height="1.8" fill="#000"/><rect x="92" y="290.3" width="13" height="10.35" fill="#8888ff"/><rect x="105" y="290.3" width="2" height="10.35" fill="#ff8888"/><rect x="107" y="290.3" width="6" height="10.35" fill="#8888ff"/><rect x="113" y="290.3" width="19" height="10.35" fill="#ff8888"/><rect x="132" y="290.3" width="31" height="10.35" fill="#8888ff"/><rect x="163" y="290.3" width="8" height="10.35" fill="#ff8888"/><rect x="171" y="290.3" width="6" height="10.35" fill="#8888ff"/><rect x="177" y="290.3" width="9" height="10.35" fill="#ff8888"/><rect x="186" y="290.3" width="2" height="10.35" fill="#00ffff"/><rect x="188" y="290.3" width="3" height="10.35" fill="#ff8888"/><rect x="191" y="290.3" width="2" height="10.35" fill="#00ffff"/><rect x="193" y="290.3" width="3" height="10.35" fill="#ff8888"/><rect x="196" y="290.3" width="105" height="10.35" fill="#8888ff"/><rect x="301" y="290.3" width="4" height="10.35" fill="#ff8888"/><rect x="305" y="290.3" width="2" height="10.35" fill="#00ffff"/><rect x="307" y="290.3" width="2" height="10.35" fill="#ff8888"/><rect x="309" y="290.3" width="8.4" height="10.35" fill="#8888ff"/><rect x="317.4" y="290.3" width="24.6" height="10.35" fill="#ff8888"/><rect x="342" y="290.3" width="2" height="10.35" fill="#00ffff"/><rect x="344" y="290.3" width="2" height="10.35" fill="#ff8888"/><rect x="346" y="290.3" width="25" height="10.35" fill="#00ffff"/><rect x="371" y="290.3" width="3" height="10.35" fill="#ff8888"/><rect x="374" y="290.3" width="2" height="10.35" fill="#00ffff"/><rect x="376" y="290.3" width="11" height="10.35" fill="#ff8888"/><rect x="387" y="290.3" width="2" height="10.35" fill="#00ffff"/><rect x="389" y="290.3" width="12.5" height="10.35" fill="#ff8888"/><rect x="401.5" y="290.3" width="1.5" height="10.35" fill="#d0e8e8"/><rect x="403" y="290.3" width="48" height="10.35" fill="#00ffff"/><rect x="451" y="290.3" width="1" height="10.35" fill="#00ffff"/><rect x="452" y="290.3" width="2" height="10.35" fill="#00ffff"/><rect x="454" y="290.3" width="3" height="10.35" fill="#ff8888"/><rect x="457" y="290.3" width="3" height="10.35" fill="#00ffff"/><rect x="460" y="290.3" width="2" height="10.35" fill="#ff8888"/><rect x="462" y="290.3" width="1" height="10.35" fill="#00ffff"/><rect x="463" y="290.3" width="2.6" height="10.35" fill="#ff8888"/><rect x="465.6" y="290.3" width="1.4" height="10.35" fill="#00ffff"/><rect x="467" y="290.3" width="6" height="10.35" fill="#ff8888"/><rect x="473" y="290.3" width="38" height="10.35" fill="#8888ff"/><rect x="511" y="290.3" width="1" height="10.35" fill="#ff8888"/><rect x="512" y="290.3" width="4" height="10.35" fill="#8888ff"/><rect x="516" y="290.3" width="5" height="10.35" fill="#ff8888"/><rect x="521" y="290.3" width="4" height="10.35" fill="#8888ff"/><rect x="525" y="290.3" width="2" height="10.35" fill="#ff8888"/><rect x="527" y="290.3" width="14.6" height="10.35" fill="#8888ff"/><rect x="92" y="297.8" width="449.6" height="1.8" fill="#d2d4cc"/><rect x="91" y="288.5" width="452.2" height="1.8" fill="#000"/><rect x="91" y="300.65" width="452.2" height="1.8" fill="#000"/><line x1="451.5" y1="234.3" x2="451.5" y2="300.55" stroke="#fff" stroke-width="0.9" stroke-dasharray="2.2,0.8"/><polygon points="92,241.7 93.6,241.7 92,247.7" fill="#e8e0e0"/><polygon points="540.4,241.7 541.6,241.7 541.6,248.7" fill="#eee"/><polygon points="176.9,241.7 178,246.7 179.1,241.7" fill="#1a1a1a"/><polygon points="187.9,241.7 189,246.7 190.1,241.7" fill="#1a1a1a"/><polygon points="516.2,241.7 517.3,245.7 518.4,241.7" fill="#1a1a1a"/><polygon points="525.7,241.7 526.8,248.7 527.9,241.7" fill="#1a1a1a"/><polygon points="385.9,241.7 387,244.7 388.1,241.7" fill="#1a1a1a"/><polygon points="129.2,241.7 130,243.3 130.8,241.7" fill="#222"/><polygon points="152.2,241.7 153,243.3 153.8,241.7" fill="#222"/><polygon points="164.2,241.7 165,243.3 165.8,241.7" fill="#222"/><polygon points="169.2,241.7 170,243.3 170.8,241.7" fill="#222"/><polygon points="304.2,241.7 305,243.3 305.8,241.7" fill="#222"/><polygon points="343.2,241.7 344,243.3 344.8,241.7" fill="#222"/><polygon points="399.2,241.7 400,243.3 400.8,241.7" fill="#222"/><polygon points="92,253.85 93.6,253.85 92,259.85" fill="#e8e0e0"/><polygon points="540.4,253.85 541.6,253.85 541.6,260.85" fill="#eee"/><polygon points="516.2,253.85 517.3,257.85 518.4,253.85" fill="#1a1a1a"/><polygon points="525.7,253.85 526.8,260.85 527.9,253.85" fill="#1a1a1a"/><polygon points="385.9,253.85 387,256.85 388.1,253.85" fill="#1a1a1a"/><polygon points="129.2,253.85 130,255.45 130.8,253.85" fill="#222"/><polygon points="152.2,253.85 153,255.45 153.8,253.85" fill="#222"/><polygon points="164.2,253.85 165,255.45 165.8,253.85" fill="#222"/><polygon points="169.2,253.85 170,255.45 170.8,253.85" fill="#222"/><polygon points="304.2,253.85 305,255.45 305.8,253.85" fill="#222"/><polygon points="343.2,253.85 344,255.45 344.8,253.85" fill="#222"/><polygon points="399.2,253.85 400,255.45 400.8,253.85" fill="#222"/><polygon points="92,266 93.6,266 92,272" fill="#e8e0e0"/><polygon points="540.4,266 541.6,266 541.6,273" fill="#eee"/><polygon points="176.9,266 178,271 179.1,266" fill="#1a1a1a"/><polygon points="187.9,266 189,271 190.1,266" fill="#1a1a1a"/><polygon points="516.2,266 517.3,270 518.4,266" fill="#1a1a1a"/><polygon points="525.7,266 526.8,273 527.9,266" fill="#1a1a1a"/><polygon points="385.9,266 387,269 388.1,266" fill="#1a1a1a"/><polygon points="129.2,266 130,267.6 130.8,266" fill="#222"/><polygon points="152.2,266 153,267.6 153.8,266" fill="#222"/><polygon points="164.2,266 165,267.6 165.8,266" fill="#222"/><polygon points="169.2,266 170,267.6 170.8,266" fill="#222"/><polygon points="304.2,266 305,267.6 305.8,266" fill="#222"/><polygon points="343.2,266 344,267.6 344.8,266" fill="#222"/><polygon points="399.2,266 400,267.6 400.8,266" fill="#222"/><polygon points="92,278.15 93.6,278.15 92,284.15" fill="#e8e0e0"/><polygon points="540.4,278.15 541.6,278.15 541.6,285.15" fill="#eee"/><polygon points="187.9,278.15 189,283.15 190.1,278.15" fill="#1a1a1a"/><polygon points="96.9,278.15 98,283.15 99.1,278.15" fill="#1a1a1a"/><polygon points="516.2,278.15 517.3,282.15 518.4,278.15" fill="#1a1a1a"/><polygon points="525.7,278.15 526.8,285.15 527.9,278.15" fill="#1a1a1a"/><polygon points="464.7,278.15 465.8,282.15 466.9,278.15" fill="#1a1a1a"/><polygon points="385.9,278.15 387,281.15 388.1,278.15" fill="#1a1a1a"/><polygon points="129.2,278.15 130,279.75 130.8,278.15" fill="#222"/><polygon points="152.2,278.15 153,279.75 153.8,278.15" fill="#222"/><polygon points="164.2,278.15 165,279.75 165.8,278.15" fill="#222"/><polygon points="169.2,278.15 170,279.75 170.8,278.15" fill="#222"/><polygon points="304.2,278.15 305,279.75 305.8,278.15" fill="#222"/><polygon points="343.2,278.15 344,279.75 344.8,278.15" fill="#222"/><polygon points="399.2,278.15 400,279.75 400.8,278.15" fill="#222"/><polygon points="92,290.3 93.6,290.3 92,296.3" fill="#e8e0e0"/><polygon points="540.4,290.3 541.6,290.3 541.6,297.3" fill="#eee"/><polygon points="176.9,290.3 178,295.3 179.1,290.3" fill="#1a1a1a"/><polygon points="525.7,290.3 526.8,297.3 527.9,290.3" fill="#1a1a1a"/><polygon points="385.9,290.3 387,293.3 388.1,290.3" fill="#1a1a1a"/><polygon points="129.2,290.3 130,291.9 130.8,290.3" fill="#222"/><polygon points="152.2,290.3 153,291.9 153.8,290.3" fill="#222"/><polygon points="164.2,290.3 165,291.9 165.8,290.3" fill="#222"/><polygon points="169.2,290.3 170,291.9 170.8,290.3" fill="#222"/><polygon points="304.2,290.3 305,291.9 305.8,290.3" fill="#222"/><polygon points="343.2,290.3 344,291.9 344.8,290.3" fill="#222"/><polygon points="399.2,290.3 400,291.9 400.8,290.3" fill="#222"/><rect x="91" y="239.8" width="1.6" height="62.75" fill="#000"/><rect x="541.6" y="239.8" width="1.6" height="62.75" fill="#000"/><rect x="103.49" y="302.45" width="1" height="1.9" fill="#222"/><rect x="128.05" y="302.45" width="1" height="2.4" fill="#222"/><text class="ax" x="128.55" y="310.45" text-anchor="middle">57k</text><rect x="152.61" y="302.45" width="1" height="1.9" fill="#222"/><rect x="177.18" y="302.45" width="1" height="2.4" fill="#222"/><text class="ax" x="177.68" y="310.45" text-anchor="middle">60k</text><rect x="201.74" y="302.45" width="1" height="1.9" fill="#222"/><rect x="226.3" y="302.45" width="1" height="2.4" fill="#222"/><text class="ax" x="226.8" y="310.45" text-anchor="middle">63k</text><rect x="250.87" y="302.45" width="1" height="1.9" fill="#222"/><rect x="275.43" y="302.45" width="1" height="2.4" fill="#222"/><text class="ax" x="275.93" y="310.45" text-anchor="middle">66k</text><rect x="299.99" y="302.45" width="1" height="1.9" fill="#222"/><rect x="324.55" y="302.45" width="1" height="2.4" fill="#222"/><text class="ax" x="325.05" y="310.45" text-anchor="middle">69k</text><rect x="349.11" y="302.45" width="1" height="1.9" fill="#222"/><rect x="373.68" y="302.45" width="1" height="2.4" fill="#222"/><text class="ax" x="374.18" y="310.45" text-anchor="middle">72k</text><rect x="398.24" y="302.45" width="1" height="1.9" fill="#222"/><rect x="422.8" y="302.45" width="1" height="2.4" fill="#222"/><text class="ax" x="423.3" y="310.45" text-anchor="middle">75k</text><rect x="447.36" y="302.45" width="1" height="1.9" fill="#222"/><rect x="471.93" y="302.45" width="1" height="2.4" fill="#222"/><text class="ax" x="472.43" y="310.45" text-anchor="middle">78k</text><rect x="496.49" y="302.45" width="1" height="1.9" fill="#222"/><rect x="521.05" y="302.45" width="1" height="2.4" fill="#222"/><text class="ax" x="521.55" y="310.45" text-anchor="middle">81k</text><rect x="97.2" y="227.25" width="7.8" height="1.9" fill="#6e6e6e"/><polygon points="97.2,226.3 94,228.2 97.2,230.1" fill="#6e6e6e"/><rect x="110.2" y="227.25" width="2.8" height="1.9" fill="#6e6e6e"/><polygon points="110.2,226.3 107,228.2 110.2,230.1" fill="#6e6e6e"/><rect x="145.2" y="217.25" width="4.8" height="1.9" fill="#6e6e6e"/><polygon points="145.2,216.3 142,218.2 145.2,220.1" fill="#6e6e6e"/><rect x="158.2" y="217.25" width="19.8" height="1.9" fill="#6e6e6e"/><polygon points="158.2,216.3 155,218.2 158.2,220.1" fill="#6e6e6e"/><rect x="135.2" y="227.25" width="7.8" height="1.9" fill="#6e6e6e"/><polygon points="135.2,226.3 132,228.2 135.2,230.1" fill="#6e6e6e"/><rect x="153.2" y="227.25" width="2.8" height="1.9" fill="#6e6e6e"/><polygon points="153.2,226.3 150,228.2 153.2,230.1" fill="#6e6e6e"/><rect x="188.2" y="227.25" width="0.1" height="1.9" fill="#6e6e6e"/><polygon points="188.2,226.3 186,228.2 188.2,230.1" fill="#6e6e6e"/><rect x="191" y="227.25" width="0.1" height="1.9" fill="#6e6e6e"/><polygon points="190.8,226.3 193,228.2 190.8,230.1" fill="#6e6e6e"/><rect x="196" y="227.25" width="101.8" height="1.9" fill="#6e6e6e"/><polygon points="297.8,226.3 301,228.2 297.8,230.1" fill="#6e6e6e"/><rect x="307.2" y="227.25" width="0.1" height="1.9" fill="#6e6e6e"/><polygon points="307.2,226.3 305,228.2 307.2,230.1" fill="#6e6e6e"/><rect x="312.2" y="227.25" width="5.8" height="1.9" fill="#6e6e6e"/><polygon points="312.2,226.3 309,228.2 312.2,230.1" fill="#6e6e6e"/><rect x="321.2" y="227.25" width="10.8" height="1.9" fill="#6e6e6e"/><polygon points="321.2,226.3 318,228.2 321.2,230.1" fill="#6e6e6e"/><rect x="342" y="227.25" width="0.1" height="1.9" fill="#6e6e6e"/><polygon points="341.8,226.3 344,228.2 341.8,230.1" fill="#6e6e6e"/><rect x="346" y="227.25" width="21.8" height="1.9" fill="#6e6e6e"/><polygon points="367.8,226.3 371,228.2 367.8,230.1" fill="#6e6e6e"/><rect x="374" y="227.25" width="10.8" height="1.9" fill="#6e6e6e"/><polygon points="384.8,226.3 388,228.2 384.8,230.1" fill="#6e6e6e"/><rect x="389" y="227.25" width="8.8" height="1.9" fill="#6e6e6e"/><polygon points="397.8,226.3 401,228.2 397.8,230.1" fill="#6e6e6e"/><rect x="404" y="227.25" width="43.8" height="1.9" fill="#6e6e6e"/><polygon points="447.8,226.3 451,228.2 447.8,230.1" fill="#6e6e6e"/><rect x="452" y="227.25" width="0.1" height="1.9" fill="#6e6e6e"/><polygon points="451.8,226.3 454,228.2 451.8,230.1" fill="#6e6e6e"/><rect x="457" y="227.25" width="0.8" height="1.9" fill="#6e6e6e"/><polygon points="457.8,226.3 460,228.2 457.8,230.1" fill="#6e6e6e"/><rect x="462" y="227.25" width="0.1" height="1.9" fill="#6e6e6e"/><polygon points="461.3,226.3 463.5,228.2 461.3,230.1" fill="#6e6e6e"/><rect x="465.5" y="227.25" width="0.1" height="1.9" fill="#6e6e6e"/><polygon points="464.8,226.3 467,228.2 464.8,230.1" fill="#6e6e6e"/><rect x="473" y="227.25" width="11.8" height="1.9" fill="#6e6e6e"/><polygon points="484.8,226.3 488,228.2 484.8,230.1" fill="#6e6e6e"/><rect x="488" y="217.25" width="23.8" height="1.9" fill="#6e6e6e"/><polygon points="511.8,216.3 515,218.2 511.8,220.1" fill="#6e6e6e"/><rect x="512" y="227.25" width="0.8" height="1.9" fill="#6e6e6e"/><polygon points="512.8,226.3 515,228.2 512.8,230.1" fill="#6e6e6e"/><rect x="523.2" y="227.25" width="0.8" height="1.9" fill="#6e6e6e"/><polygon points="523.2,226.3 521,228.2 523.2,230.1" fill="#6e6e6e"/><rect x="530.2" y="227.25" width="10.8" height="1.9" fill="#6e6e6e"/><polygon points="530.2,226.3 527,228.2 530.2,230.1" fill="#6e6e6e"/><text class="l" x="90" y="225.3">infA</text><text class="l" x="99" y="234.3">rps8</text><text class="l" x="108" y="225.3">rpl14</text><text class="l" x="140" y="215.3">rpl22</text><text class="l" x="162" y="215.3">rpl2</text><text class="l" x="133" y="225.3">rps3</text><text class="l" x="148" y="225.3">rps19</text><text class="l" x="185" y="225.3">trnI</text><text class="l" x="191" y="234.3">trnL</text><text class="l" x="242" y="225.3">ycf2</text><text class="l" x="303" y="225.3">trnL</text><text class="l" x="311" y="234.3">rps7</text><text class="l" x="322" y="234.3">rps12</text><text class="l" x="337" y="225.3">trnV</text><text class="l" x="352" y="234.3">rrn16</text><text class="l" x="374" y="225.3">trnI</text><text class="l" x="390" y="234.3">trnA</text><text class="l" x="417" y="225.3">rrn23</text><text class="l" x="443" y="225.3">rrn4.5</text><text class="l" x="460" y="225.3">trnR</text><text class="l" x="454" y="234.3">rrn5</text><text class="l" x="466" y="234.3">trnN</text><text class="l" x="474" y="226">chlL</text><text class="l" x="491" y="215.3">chlN</text><text class="l" x="511" y="225.3">rps15</text><text class="l" x="512" y="234.3">psaC</text><text class="l" x="530" y="225.3">ccsA</text><rect x="92" y="338.1" width="2" height="5.6" fill="#8888ff"/><rect x="94" y="338.1" width="2" height="5.6" fill="#00ffff"/><rect x="102" y="338.1" width="100" height="5.6" fill="#8888ff"/><rect x="203" y="338.1" width="3" height="5.6" fill="#8888ff"/><rect x="207" y="338.1" width="39" height="5.6" fill="#8888ff"/><rect x="250" y="338.1" width="2.5" height="5.6" fill="#00ffff"/><rect x="254" y="338.1" width="2.5" height="5.6" fill="#00ffff"/><rect x="259" y="338.1" width="2.5" height="5.6" fill="#00ffff"/><rect x="266" y="338.1" width="1.5" height="5.6" fill="#00ffff"/><rect x="268.5" y="338.1" width="47.5" height="5.6" fill="#00ffff"/><rect x="317" y="338.1" width="1" height="5.6" fill="#00ffff"/><rect x="330" y="338.1" width="3" height="5.6" fill="#00ffff"/><rect x="344" y="338.1" width="1" height="5.6" fill="#00ffff"/><rect x="349" y="338.1" width="24" height="5.6" fill="#00ffff"/><rect x="375" y="338.1" width="2" height="5.6" fill="#00ffff"/><rect x="402" y="338.1" width="8" height="5.6" fill="#8888ff"/><rect x="412" y="338.1" width="2" height="5.6" fill="#00ffff"/><rect x="418" y="338.1" width="105" height="5.6" fill="#8888ff"/><rect x="526" y="338.1" width="2" height="5.6" fill="#00ffff"/><rect x="532" y="338.1" width="2" height="5.6" fill="#00ffff"/><rect x="92" y="345.5" width="2" height="10.35" fill="#8888ff"/><rect x="94" y="345.5" width="2" height="10.35" fill="#00ffff"/><rect x="96" y="345.5" width="6" height="10.35" fill="#ff8888"/><rect x="102" y="345.5" width="100" height="10.35" fill="#8888ff"/><rect x="202" y="345.5" width="1" height="10.35" fill="#8888ff"/><rect x="203" y="345.5" width="3" height="10.35" fill="#8888ff"/><rect x="206" y="345.5" width="1" height="10.35" fill="#ff8888"/><rect x="207" y="345.5" width="39" height="10.35" fill="#8888ff"/><rect x="246" y="345.5" width="4" height="10.35" fill="#ff8888"/><rect x="250" y="345.5" width="2.5" height="10.35" fill="#00ffff"/><rect x="252.5" y="345.5" width="1.5" height="10.35" fill="#ff8888"/><rect x="254" y="345.5" width="2.5" height="10.35" fill="#00ffff"/><rect x="256.5" y="345.5" width="2" height="10.35" fill="#ff8888"/><rect x="258.5" y="345.5" width="3" height="10.35" fill="#00ffff"/><rect x="261.5" y="345.5" width="4.5" height="10.35" fill="#ff8888"/><rect x="266" y="345.5" width="1.5" height="10.35" fill="#00ffff"/><rect x="267.5" y="345.5" width="1" height="10.35" fill="#00ffff"/><rect x="268.5" y="345.5" width="47.5" height="10.35" fill="#00ffff"/><rect x="316" y="345.5" width="1" height="10.35" fill="#00ffff"/><rect x="317" y="345.5" width="1" height="10.35" fill="#00ffff"/><rect x="318" y="345.5" width="12" height="10.35" fill="#ff8888"/><rect x="330" y="345.5" width="3" height="10.35" fill="#00ffff"/><rect x="333" y="345.5" width="11" height="10.35" fill="#ff8888"/><rect x="344" y="345.5" width="1" height="10.35" fill="#00ffff"/><rect x="345" y="345.5" width="4" height="10.35" fill="#ff8888"/><rect x="349" y="345.5" width="24" height="10.35" fill="#00ffff"/><rect x="373" y="345.5" width="2" height="10.35" fill="#ff8888"/><rect x="375" y="345.5" width="2" height="10.35" fill="#00ffff"/><rect x="377" y="345.5" width="25" height="10.35" fill="#ff8888"/><rect x="402" y="345.5" width="8" height="10.35" fill="#8888ff"/><rect x="410" y="345.5" width="2" height="10.35" fill="#ff8888"/><rect x="412" y="345.5" width="2" height="10.35" fill="#00ffff"/><rect x="414" y="345.5" width="4" height="10.35" fill="#ff8888"/><rect x="418" y="345.5" width="105" height="10.35" fill="#8888ff"/><rect x="523" y="345.5" width="3" height="10.35" fill="#ff8888"/><rect x="526" y="345.5" width="2" height="10.35" fill="#00ffff"/><rect x="528" y="345.5" width="4" height="10.35" fill="#ff8888"/><rect x="532" y="345.5" width="2" height="10.35" fill="#00ffff"/><rect x="534" y="345.5" width="7.6" height="10.35" fill="#ff8888"/><rect x="92" y="353" width="449.6" height="1.8" fill="#d2d4cc"/><rect x="91" y="343.7" width="452.2" height="1.8" fill="#000"/><rect x="92" y="357.65" width="2" height="10.35" fill="#8888ff"/><rect x="94" y="357.65" width="2" height="10.35" fill="#00ffff"/><rect x="96" y="357.65" width="6" height="10.35" fill="#ff8888"/><rect x="102" y="357.65" width="100" height="10.35" fill="#8888ff"/><rect x="202" y="357.65" width="1" height="10.35" fill="#8888ff"/><rect x="203" y="357.65" width="3" height="10.35" fill="#8888ff"/><rect x="206" y="357.65" width="1" height="10.35" fill="#ff8888"/><rect x="207" y="357.65" width="39" height="10.35" fill="#8888ff"/><rect x="246" y="357.65" width="4" height="10.35" fill="#ff8888"/><rect x="250" y="357.65" width="2.5" height="10.35" fill="#00ffff"/><rect x="252.5" y="357.65" width="1.5" height="10.35" fill="#ff8888"/><rect x="254" y="357.65" width="2.5" height="10.35" fill="#00ffff"/><rect x="256.5" y="357.65" width="2" height="10.35" fill="#ff8888"/><rect x="258.5" y="357.65" width="3" height="10.35" fill="#00ffff"/><rect x="261.5" y="357.65" width="4.5" height="10.35" fill="#ff8888"/><rect x="266" y="357.65" width="1.5" height="10.35" fill="#00ffff"/><rect x="267.5" y="357.65" width="1" height="10.35" fill="#00ffff"/><rect x="268.5" y="357.65" width="47.5" height="10.35" fill="#00ffff"/><rect x="316" y="357.65" width="1" height="10.35" fill="#00ffff"/><rect x="317" y="357.65" width="1" height="10.35" fill="#00ffff"/><rect x="318" y="357.65" width="12" height="10.35" fill="#ff8888"/><rect x="330" y="357.65" width="3" height="10.35" fill="#00ffff"/><rect x="333" y="357.65" width="11" height="10.35" fill="#ff8888"/><rect x="344" y="357.65" width="1" height="10.35" fill="#00ffff"/><rect x="345" y="357.65" width="4" height="10.35" fill="#ff8888"/><rect x="349" y="357.65" width="24" height="10.35" fill="#00ffff"/><rect x="373" y="357.65" width="2" height="10.35" fill="#ff8888"/><rect x="375" y="357.65" width="2" height="10.35" fill="#00ffff"/><rect x="377" y="357.65" width="25" height="10.35" fill="#ff8888"/><rect x="402" y="357.65" width="8" height="10.35" fill="#8888ff"/><rect x="410" y="357.65" width="2" height="10.35" fill="#ff8888"/><rect x="412" y="357.65" width="2" height="10.35" fill="#00ffff"/><rect x="414" y="357.65" width="4" height="10.35" fill="#ff8888"/><rect x="418" y="357.65" width="105" height="10.35" fill="#8888ff"/><rect x="523" y="357.65" width="3" height="10.35" fill="#ff8888"/><rect x="526" y="357.65" width="2" height="10.35" fill="#00ffff"/><rect x="528" y="357.65" width="4" height="10.35" fill="#ff8888"/><rect x="532" y="357.65" width="2" height="10.35" fill="#00ffff"/><rect x="534" y="357.65" width="7.6" height="10.35" fill="#ff8888"/><rect x="92" y="365.15" width="449.6" height="1.8" fill="#d2d4cc"/><rect x="91" y="355.85" width="452.2" height="1.8" fill="#000"/><rect x="92" y="369.8" width="2" height="10.35" fill="#8888ff"/><rect x="94" y="369.8" width="2" height="10.35" fill="#00ffff"/><rect x="96" y="369.8" width="6" height="10.35" fill="#ff8888"/><rect x="102" y="369.8" width="100" height="10.35" fill="#8888ff"/><rect x="202" y="369.8" width="1" height="10.35" fill="#8888ff"/><rect x="203" y="369.8" width="3" height="10.35" fill="#8888ff"/><rect x="206" y="369.8" width="1" height="10.35" fill="#ff8888"/><rect x="207" y="369.8" width="39" height="10.35" fill="#8888ff"/><rect x="246" y="369.8" width="4" height="10.35" fill="#ff8888"/><rect x="250" y="369.8" width="2.5" height="10.35" fill="#00ffff"/><rect x="252.5" y="369.8" width="1.5" height="10.35" fill="#ff8888"/><rect x="254" y="369.8" width="2.5" height="10.35" fill="#00ffff"/><rect x="256.5" y="369.8" width="2" height="10.35" fill="#ff8888"/><rect x="258.5" y="369.8" width="3" height="10.35" fill="#00ffff"/><rect x="261.5" y="369.8" width="4.5" height="10.35" fill="#ff8888"/><rect x="266" y="369.8" width="1.5" height="10.35" fill="#00ffff"/><rect x="267.5" y="369.8" width="1" height="10.35" fill="#00ffff"/><rect x="268.5" y="369.8" width="47.5" height="10.35" fill="#00ffff"/><rect x="316" y="369.8" width="1" height="10.35" fill="#00ffff"/><rect x="317" y="369.8" width="1" height="10.35" fill="#00ffff"/><rect x="318" y="369.8" width="12" height="10.35" fill="#ff8888"/><rect x="330" y="369.8" width="3" height="10.35" fill="#00ffff"/><rect x="333" y="369.8" width="11" height="10.35" fill="#ff8888"/><rect x="344" y="369.8" width="1" height="10.35" fill="#00ffff"/><rect x="345" y="369.8" width="4" height="10.35" fill="#ff8888"/><rect x="349" y="369.8" width="24" height="10.35" fill="#00ffff"/><rect x="373" y="369.8" width="2" height="10.35" fill="#ff8888"/><rect x="375" y="369.8" width="2" height="10.35" fill="#00ffff"/><rect x="377" y="369.8" width="25" height="10.35" fill="#ff8888"/><rect x="402" y="369.8" width="8" height="10.35" fill="#8888ff"/><rect x="410" y="369.8" width="2" height="10.35" fill="#ff8888"/><rect x="412" y="369.8" width="2" height="10.35" fill="#00ffff"/><rect x="414" y="369.8" width="4" height="10.35" fill="#ff8888"/><rect x="418" y="369.8" width="105" height="10.35" fill="#8888ff"/><rect x="523" y="369.8" width="3" height="10.35" fill="#ff8888"/><rect x="526" y="369.8" width="2" height="10.35" fill="#00ffff"/><rect x="528" y="369.8" width="4" height="10.35" fill="#ff8888"/><rect x="532" y="369.8" width="2" height="10.35" fill="#00ffff"/><rect x="534" y="369.8" width="7.6" height="10.35" fill="#ff8888"/><rect x="92" y="377.3" width="449.6" height="1.8" fill="#d2d4cc"/><rect x="91" y="368" width="452.2" height="1.8" fill="#000"/><rect x="92" y="381.95" width="2" height="10.35" fill="#8888ff"/><rect x="94" y="381.95" width="2" height="10.35" fill="#00ffff"/><rect x="96" y="381.95" width="6" height="10.35" fill="#ff8888"/><rect x="102" y="381.95" width="100" height="10.35" fill="#8888ff"/><rect x="202" y="381.95" width="1" height="10.35" fill="#8888ff"/><rect x="203" y="381.95" width="3" height="10.35" fill="#8888ff"/><rect x="206" y="381.95" width="1" height="10.35" fill="#ff8888"/><rect x="207" y="381.95" width="39" height="10.35" fill="#8888ff"/><rect x="246" y="381.95" width="4" height="10.35" fill="#ff8888"/><rect x="250" y="381.95" width="2.5" height="10.35" fill="#00ffff"/><rect x="252.5" y="381.95" width="1.5" height="10.35" fill="#ff8888"/><rect x="254" y="381.95" width="2.5" height="10.35" fill="#00ffff"/><rect x="256.5" y="381.95" width="2" height="10.35" fill="#ff8888"/><rect x="258.5" y="381.95" width="3" height="10.35" fill="#00ffff"/><rect x="261.5" y="381.95" width="4.5" height="10.35" fill="#ff8888"/><rect x="266" y="381.95" width="1.5" height="10.35" fill="#00ffff"/><rect x="267.5" y="381.95" width="1" height="10.35" fill="#00ffff"/><rect x="268.5" y="381.95" width="47.5" height="10.35" fill="#00ffff"/><rect x="316" y="381.95" width="1" height="10.35" fill="#00ffff"/><rect x="317" y="381.95" width="1" height="10.35" fill="#00ffff"/><rect x="318" y="381.95" width="12" height="10.35" fill="#ff8888"/><rect x="330" y="381.95" width="3" height="10.35" fill="#00ffff"/><rect x="333" y="381.95" width="11" height="10.35" fill="#ff8888"/><rect x="344" y="381.95" width="1" height="10.35" fill="#00ffff"/><rect x="345" y="381.95" width="4" height="10.35" fill="#ff8888"/><rect x="349" y="381.95" width="24" height="10.35" fill="#00ffff"/><rect x="373" y="381.95" width="2" height="10.35" fill="#ff8888"/><rect x="375" y="381.95" width="2" height="10.35" fill="#00ffff"/><rect x="377" y="381.95" width="25" height="10.35" fill="#ff8888"/><rect x="402" y="381.95" width="8" height="10.35" fill="#8888ff"/><rect x="410" y="381.95" width="2" height="10.35" fill="#ff8888"/><rect x="412" y="381.95" width="2" height="10.35" fill="#00ffff"/><rect x="414" y="381.95" width="4" height="10.35" fill="#ff8888"/><rect x="418" y="381.95" width="105" height="10.35" fill="#8888ff"/><rect x="523" y="381.95" width="3" height="10.35" fill="#ff8888"/><rect x="526" y="381.95" width="2" height="10.35" fill="#00ffff"/><rect x="528" y="381.95" width="4" height="10.35" fill="#ff8888"/><rect x="532" y="381.95" width="2" height="10.35" fill="#00ffff"/><rect x="534" y="381.95" width="7.6" height="10.35" fill="#ff8888"/><rect x="92" y="389.45" width="449.6" height="1.8" fill="#d2d4cc"/><rect x="91" y="380.15" width="452.2" height="1.8" fill="#000"/><rect x="92" y="394.1" width="2" height="10.35" fill="#8888ff"/><rect x="94" y="394.1" width="2" height="10.35" fill="#00ffff"/><rect x="96" y="394.1" width="6" height="10.35" fill="#ff8888"/><rect x="102" y="394.1" width="100" height="10.35" fill="#8888ff"/><rect x="202" y="394.1" width="1" height="10.35" fill="#8888ff"/><rect x="203" y="394.1" width="3" height="10.35" fill="#8888ff"/><rect x="206" y="394.1" width="1" height="10.35" fill="#ff8888"/><rect x="207" y="394.1" width="39" height="10.35" fill="#8888ff"/><rect x="246" y="394.1" width="4" height="10.35" fill="#ff8888"/><rect x="250" y="394.1" width="2.5" height="10.35" fill="#00ffff"/><rect x="252.5" y="394.1" width="1.5" height="10.35" fill="#ff8888"/><rect x="254" y="394.1" width="2.5" height="10.35" fill="#00ffff"/><rect x="256.5" y="394.1" width="2" height="10.35" fill="#ff8888"/><rect x="258.5" y="394.1" width="3" height="10.35" fill="#00ffff"/><rect x="261.5" y="394.1" width="4.5" height="10.35" fill="#ff8888"/><rect x="266" y="394.1" width="1.5" height="10.35" fill="#00ffff"/><rect x="267.5" y="394.1" width="1" height="10.35" fill="#00ffff"/><rect x="268.5" y="394.1" width="47.5" height="10.35" fill="#00ffff"/><rect x="316" y="394.1" width="1" height="10.35" fill="#00ffff"/><rect x="317" y="394.1" width="1" height="10.35" fill="#00ffff"/><rect x="318" y="394.1" width="12" height="10.35" fill="#ff8888"/><rect x="330" y="394.1" width="3" height="10.35" fill="#00ffff"/><rect x="333" y="394.1" width="11" height="10.35" fill="#ff8888"/><rect x="344" y="394.1" width="1" height="10.35" fill="#00ffff"/><rect x="345" y="394.1" width="4" height="10.35" fill="#ff8888"/><rect x="349" y="394.1" width="24" height="10.35" fill="#00ffff"/><rect x="373" y="394.1" width="2" height="10.35" fill="#ff8888"/><rect x="375" y="394.1" width="2" height="10.35" fill="#00ffff"/><rect x="377" y="394.1" width="25" height="10.35" fill="#ff8888"/><rect x="402" y="394.1" width="8" height="10.35" fill="#8888ff"/><rect x="410" y="394.1" width="2" height="10.35" fill="#ff8888"/><rect x="412" y="394.1" width="2" height="10.35" fill="#00ffff"/><rect x="414" y="394.1" width="4" height="10.35" fill="#ff8888"/><rect x="418" y="394.1" width="105" height="10.35" fill="#8888ff"/><rect x="523" y="394.1" width="3" height="10.35" fill="#ff8888"/><rect x="526" y="394.1" width="2" height="10.35" fill="#00ffff"/><rect x="528" y="394.1" width="4" height="10.35" fill="#ff8888"/><rect x="532" y="394.1" width="2" height="10.35" fill="#00ffff"/><rect x="534" y="394.1" width="7.6" height="10.35" fill="#ff8888"/><rect x="92" y="401.6" width="449.6" height="1.8" fill="#d2d4cc"/><rect x="91" y="392.3" width="452.2" height="1.8" fill="#000"/><rect x="91" y="404.45" width="452.2" height="1.8" fill="#000"/><line x1="202.5" y1="338.1" x2="202.5" y2="404.35" stroke="#fff" stroke-width="0.9" stroke-dasharray="2.2,0.8"/><line x1="267.9" y1="338.1" x2="267.9" y2="404.35" stroke="#fff" stroke-width="0.9" stroke-dasharray="2.2,0.8"/><line x1="316.5" y1="338.1" x2="316.5" y2="404.35" stroke="#fff" stroke-width="0.9" stroke-dasharray="2.2,0.8"/><polygon points="92,345.5 93.6,345.5 92,351.5" fill="#e8e0e0"/><polygon points="540.4,345.5 541.6,345.5 541.6,352.5" fill="#eee"/><polygon points="103.9,345.5 105,349.5 106.1,345.5" fill="#1a1a1a"/><polygon points="135.9,345.5 137,348.5 138.1,345.5" fill="#1a1a1a"/><polygon points="333.4,345.5 334.5,349.5 335.6,345.5" fill="#1a1a1a"/><polygon points="527.7,345.5 528.8,350 529.9,345.5" fill="#1a1a1a"/><polygon points="539.1,345.5 540.2,350.5 541.3,345.5" fill="#1a1a1a"/><polygon points="92.7,345.5 93.5,347 94.3,345.5" fill="#222"/><polygon points="98.7,345.5 99.5,347 100.3,345.5" fill="#222"/><polygon points="118.2,345.5 119,347.1 119.8,345.5" fill="#222"/><polygon points="159.2,345.5 160,347.1 160.8,345.5" fill="#222"/><polygon points="201.7,345.5 202.5,347.1 203.3,345.5" fill="#222"/><polygon points="317.2,345.5 318,347.1 318.8,345.5" fill="#222"/><polygon points="344.2,345.5 345,347.1 345.8,345.5" fill="#222"/><polygon points="92,357.65 93.6,357.65 92,363.65" fill="#e8e0e0"/><polygon points="540.4,357.65 541.6,357.65 541.6,364.65" fill="#eee"/><polygon points="103.9,357.65 105,361.65 106.1,357.65" fill="#1a1a1a"/><polygon points="135.9,357.65 137,360.65 138.1,357.65" fill="#1a1a1a"/><polygon points="333.4,357.65 334.5,361.65 335.6,357.65" fill="#1a1a1a"/><polygon points="527.7,357.65 528.8,362.15 529.9,357.65" fill="#1a1a1a"/><polygon points="539.1,357.65 540.2,362.65 541.3,357.65" fill="#1a1a1a"/><polygon points="92.7,357.65 93.5,359.15 94.3,357.65" fill="#222"/><polygon points="98.7,357.65 99.5,359.15 100.3,357.65" fill="#222"/><polygon points="118.2,357.65 119,359.25 119.8,357.65" fill="#222"/><polygon points="159.2,357.65 160,359.25 160.8,357.65" fill="#222"/><polygon points="201.7,357.65 202.5,359.25 203.3,357.65" fill="#222"/><polygon points="317.2,357.65 318,359.25 318.8,357.65" fill="#222"/><polygon points="344.2,357.65 345,359.25 345.8,357.65" fill="#222"/><polygon points="92,369.8 93.6,369.8 92,375.8" fill="#e8e0e0"/><polygon points="540.4,369.8 541.6,369.8 541.6,376.8" fill="#eee"/><polygon points="103.9,369.8 105,373.8 106.1,369.8" fill="#1a1a1a"/><polygon points="135.9,369.8 137,372.8 138.1,369.8" fill="#1a1a1a"/><polygon points="333.4,369.8 334.5,373.8 335.6,369.8" fill="#1a1a1a"/><polygon points="527.7,369.8 528.8,374.3 529.9,369.8" fill="#1a1a1a"/><polygon points="539.1,369.8 540.2,374.8 541.3,369.8" fill="#1a1a1a"/><polygon points="92.7,369.8 93.5,371.3 94.3,369.8" fill="#222"/><polygon points="98.7,369.8 99.5,371.3 100.3,369.8" fill="#222"/><polygon points="118.2,369.8 119,371.4 119.8,369.8" fill="#222"/><polygon points="159.2,369.8 160,371.4 160.8,369.8" fill="#222"/><polygon points="201.7,369.8 202.5,371.4 203.3,369.8" fill="#222"/><polygon points="317.2,369.8 318,371.4 318.8,369.8" fill="#222"/><polygon points="344.2,369.8 345,371.4 345.8,369.8" fill="#222"/><polygon points="92,381.95 93.6,381.95 92,387.95" fill="#e8e0e0"/><polygon points="540.4,381.95 541.6,381.95 541.6,388.95" fill="#eee"/><polygon points="103.9,381.95 105,385.95 106.1,381.95" fill="#1a1a1a"/><polygon points="135.9,381.95 137,384.95 138.1,381.95" fill="#1a1a1a"/><polygon points="251.7,381.95 253,384.95 254.3,381.95" fill="#fff" stroke="#222" stroke-width="0.6"/><polygon points="333.4,381.95 334.5,385.95 335.6,381.95" fill="#1a1a1a"/><polygon points="335.9,381.95 337,384.95 338.1,381.95" fill="#1a1a1a"/><polygon points="410.9,381.95 412,386.95 413.1,381.95" fill="#1a1a1a"/><polygon points="527.7,381.95 528.8,386.45 529.9,381.95" fill="#1a1a1a"/><polygon points="533.7,381.95 535,388.95 536.3,381.95" fill="#fff" stroke="#222" stroke-width="0.6"/><polygon points="539.1,381.95 540.2,386.95 541.3,381.95" fill="#1a1a1a"/><polygon points="92.7,381.95 93.5,383.45 94.3,381.95" fill="#222"/><polygon points="98.7,381.95 99.5,383.45 100.3,381.95" fill="#222"/><polygon points="118.2,381.95 119,383.55 119.8,381.95" fill="#222"/><polygon points="159.2,381.95 160,383.55 160.8,381.95" fill="#222"/><polygon points="201.7,381.95 202.5,383.55 203.3,381.95" fill="#222"/><polygon points="317.2,381.95 318,383.55 318.8,381.95" fill="#222"/><polygon points="344.2,381.95 345,383.55 345.8,381.95" fill="#222"/><polygon points="92,394.1 93.6,394.1 92,400.1" fill="#e8e0e0"/><polygon points="540.4,394.1 541.6,394.1 541.6,401.1" fill="#eee"/><polygon points="97.9,394.1 99,399.1 100.1,394.1" fill="#1a1a1a"/><polygon points="135.9,394.1 137,397.1 138.1,394.1" fill="#1a1a1a"/><polygon points="333.4,394.1 334.5,398.1 335.6,394.1" fill="#1a1a1a"/><polygon points="527.7,394.1 528.8,398.6 529.9,394.1" fill="#1a1a1a"/><polygon points="539.1,394.1 540.2,399.1 541.3,394.1" fill="#1a1a1a"/><polygon points="92.7,394.1 93.5,395.6 94.3,394.1" fill="#222"/><polygon points="98.7,394.1 99.5,395.6 100.3,394.1" fill="#222"/><polygon points="118.2,394.1 119,395.7 119.8,394.1" fill="#222"/><polygon points="159.2,394.1 160,395.7 160.8,394.1" fill="#222"/><polygon points="201.7,394.1 202.5,395.7 203.3,394.1" fill="#222"/><polygon points="317.2,394.1 318,395.7 318.8,394.1" fill="#222"/><polygon points="344.2,394.1 345,395.7 345.8,394.1" fill="#222"/><rect x="91" y="343.6" width="1.6" height="62.75" fill="#000"/><rect x="541.6" y="343.6" width="1.6" height="62.75" fill="#000"/><rect x="97.1" y="406.25" width="1" height="1.9" fill="#222"/><rect x="121.67" y="406.25" width="1" height="2.4" fill="#222"/><text class="ax" x="122.17" y="414.25" text-anchor="middle">84k</text><rect x="146.23" y="406.25" width="1" height="1.9" fill="#222"/><rect x="170.79" y="406.25" width="1" height="2.4" fill="#222"/><text class="ax" x="171.29" y="414.25" text-anchor="middle">87k</text><rect x="195.35" y="406.25" width="1" height="1.9" fill="#222"/><rect x="219.92" y="406.25" width="1" height="2.4" fill="#222"/><text class="ax" x="220.42" y="414.25" text-anchor="middle">90k</text><rect x="244.48" y="406.25" width="1" height="1.9" fill="#222"/><rect x="269.04" y="406.25" width="1" height="2.4" fill="#222"/><text class="ax" x="269.54" y="414.25" text-anchor="middle">93k</text><rect x="293.6" y="406.25" width="1" height="1.9" fill="#222"/><rect x="318.17" y="406.25" width="1" height="2.4" fill="#222"/><text class="ax" x="318.67" y="414.25" text-anchor="middle">96k</text><rect x="342.73" y="406.25" width="1" height="1.9" fill="#222"/><rect x="367.29" y="406.25" width="1" height="2.4" fill="#222"/><text class="ax" x="367.79" y="414.25" text-anchor="middle">99k</text><rect x="391.85" y="406.25" width="1" height="1.9" fill="#222"/><rect x="416.42" y="406.25" width="1" height="2.4" fill="#222"/><text class="ax" x="416.92" y="414.25" text-anchor="middle">102k</text><rect x="440.98" y="406.25" width="1" height="1.9" fill="#222"/><rect x="465.54" y="406.25" width="1" height="2.4" fill="#222"/><text class="ax" x="466.04" y="414.25" text-anchor="middle">105k</text><rect x="490.1" y="406.25" width="1" height="1.9" fill="#222"/><rect x="514.67" y="406.25" width="1" height="2.4" fill="#222"/><text class="ax" x="515.17" y="414.25" text-anchor="middle">108k</text><rect x="539.23" y="406.25" width="1" height="1.9" fill="#222"/><rect x="94.8" y="330.35" width="1.2" height="1.9" fill="#6e6e6e"/><polygon points="94.8,329.4 92,331.3 94.8,333.2" fill="#6e6e6e"/><rect x="105.2" y="330.35" width="95.8" height="1.9" fill="#6e6e6e"/><polygon points="105.2,329.4 102,331.3 105.2,333.2" fill="#6e6e6e"/><rect x="204.2" y="330.35" width="0.8" height="1.9" fill="#6e6e6e"/><polygon points="204.2,329.4 202,331.3 204.2,333.2" fill="#6e6e6e"/><rect x="210.2" y="330.35" width="20.8" height="1.9" fill="#6e6e6e"/><polygon points="210.2,329.4 207,331.3 210.2,333.2" fill="#6e6e6e"/><rect x="234.2" y="320.35" width="11.8" height="1.9" fill="#6e6e6e"/><polygon points="234.2,319.4 231,321.3 234.2,323.2" fill="#6e6e6e"/><rect x="252.2" y="330.35" width="0.1" height="1.9" fill="#6e6e6e"/><polygon points="252.2,329.4 250,331.3 252.2,333.2" fill="#6e6e6e"/><rect x="256.2" y="330.35" width="0.1" height="1.9" fill="#6e6e6e"/><polygon points="256.2,329.4 254,331.3 256.2,333.2" fill="#6e6e6e"/><rect x="260.7" y="330.35" width="0.3" height="1.9" fill="#6e6e6e"/><polygon points="260.7,329.4 258.5,331.3 260.7,333.2" fill="#6e6e6e"/><rect x="268.2" y="330.35" width="0.1" height="1.9" fill="#6e6e6e"/><polygon points="268.2,329.4 266,331.3 268.2,333.2" fill="#6e6e6e"/><rect x="271.2" y="330.35" width="44.8" height="1.9" fill="#6e6e6e"/><polygon points="271.2,329.4 268,331.3 271.2,333.2" fill="#6e6e6e"/><rect x="320.2" y="330.35" width="9.8" height="1.9" fill="#6e6e6e"/><polygon points="320.2,329.4 317,331.3 320.2,333.2" fill="#6e6e6e"/><rect x="336.2" y="330.35" width="8.8" height="1.9" fill="#6e6e6e"/><polygon points="336.2,329.4 333,331.3 336.2,333.2" fill="#6e6e6e"/><rect x="352.2" y="330.35" width="20.8" height="1.9" fill="#6e6e6e"/><polygon points="352.2,329.4 349,331.3 352.2,333.2" fill="#6e6e6e"/><rect x="377.2" y="330.35" width="0.1" height="1.9" fill="#6e6e6e"/><polygon points="377.2,329.4 375,331.3 377.2,333.2" fill="#6e6e6e"/><rect x="390" y="330.35" width="7.8" height="1.9" fill="#6e6e6e"/><polygon points="397.8,329.4 401,331.3 397.8,333.2" fill="#6e6e6e"/><rect x="401" y="330.35" width="5.8" height="1.9" fill="#6e6e6e"/><polygon points="406.8,329.4 410,331.3 406.8,333.2" fill="#6e6e6e"/><rect x="412" y="330.35" width="0.1" height="1.9" fill="#6e6e6e"/><polygon points="411.8,329.4 414,331.3 411.8,333.2" fill="#6e6e6e"/><rect x="421.2" y="330.35" width="101.8" height="1.9" fill="#6e6e6e"/><polygon points="421.2,329.4 418,331.3 421.2,333.2" fill="#6e6e6e"/><rect x="525.2" y="330.35" width="0.8" height="1.9" fill="#6e6e6e"/><polygon points="525.2,329.4 523,331.3 525.2,333.2" fill="#6e6e6e"/><rect x="527" y="330.35" width="0.1" height="1.9" fill="#6e6e6e"/><polygon points="526.8,329.4 529,331.3 526.8,333.2" fill="#6e6e6e"/><rect x="534.2" y="330.35" width="0.8" height="1.9" fill="#6e6e6e"/><polygon points="534.2,329.4 532,331.3 534.2,333.2" fill="#6e6e6e"/><rect x="539.2" y="330.35" width="1.8" height="1.9" fill="#6e6e6e"/><polygon points="539.2,329.4 536,331.3 539.2,333.2" fill="#6e6e6e"/><text class="l" x="91" y="327">ccsA</text><text class="l" x="94" y="338.8">trnL</text><text class="l" x="145" y="329">ycf1</text><text class="l" x="198" y="329">rps15</text><text class="l" x="216" y="329">chlN</text><text class="l" x="235" y="319.3">chlL</text><text class="l" x="247" y="329">trnN</text><text class="l" x="260" y="329">rrn5</text><text class="l" x="251" y="338.8">trnR</text><text class="l" x="266" y="338.8">rrn4.5</text><text class="l" x="288" y="329">rrn23</text><text class="l" x="318" y="329">trnA</text><text class="l" x="336" y="338.8">trnI</text><text class="l" x="356" y="329">rrn16</text><text class="l" x="373" y="338.8">trnV</text><text class="l" x="389" y="329">rps12</text><text class="l" x="401" y="338.8">rps7</text><text class="l" x="410" y="329">trnL</text><text class="l" x="464" y="329">ycf2</text><text class="l" x="518" y="329">trnH</text><text class="l" x="530" y="329">psbA</text><text class="l" x="527" y="338.8">trnI</text><polygon points="13,283.4 16,283.4 19.6,284.7 16,286 13,286" fill="#b8b8b8"/><text class="lg" x="24" y="286.8">contig</text><polygon points="13,288 16,288 19.6,289.3 16,290.6 13,290.6" fill="#505050"/><text class="lg" x="24" y="291.4">gene</text><rect x="13" y="293.4" width="5" height="5" fill="#8888ff"/><text class="lg" x="24" y="298.1">exon</text><rect x="13" y="298.9" width="5" height="5" fill="#00ffff"/><text class="lg" x="24" y="303.6">UTR</text><rect x="13" y="304.4" width="5" height="5" fill="#ff8888"/><text class="lg" x="24" y="309.1">CNS</text><rect x="13" y="309.9" width="5" height="5" fill="#c0c0c0"/><text class="lg" x="24" y="314.6">mRNA</text><text class="sp" x="3" y="343.7">E. przewalskii</text><text class="sp" x="3" y="355.8">E. monosperma</text><text class="sp" x="3" y="367.9">E. intermedia</text><text class="sp" x="3" y="380">E. equisetina</text><text class="sp" x="3" y="392.1">E. foeminea</text><text class="sp" x="3" y="404.2">E. sinica</text></svg></body></html>
